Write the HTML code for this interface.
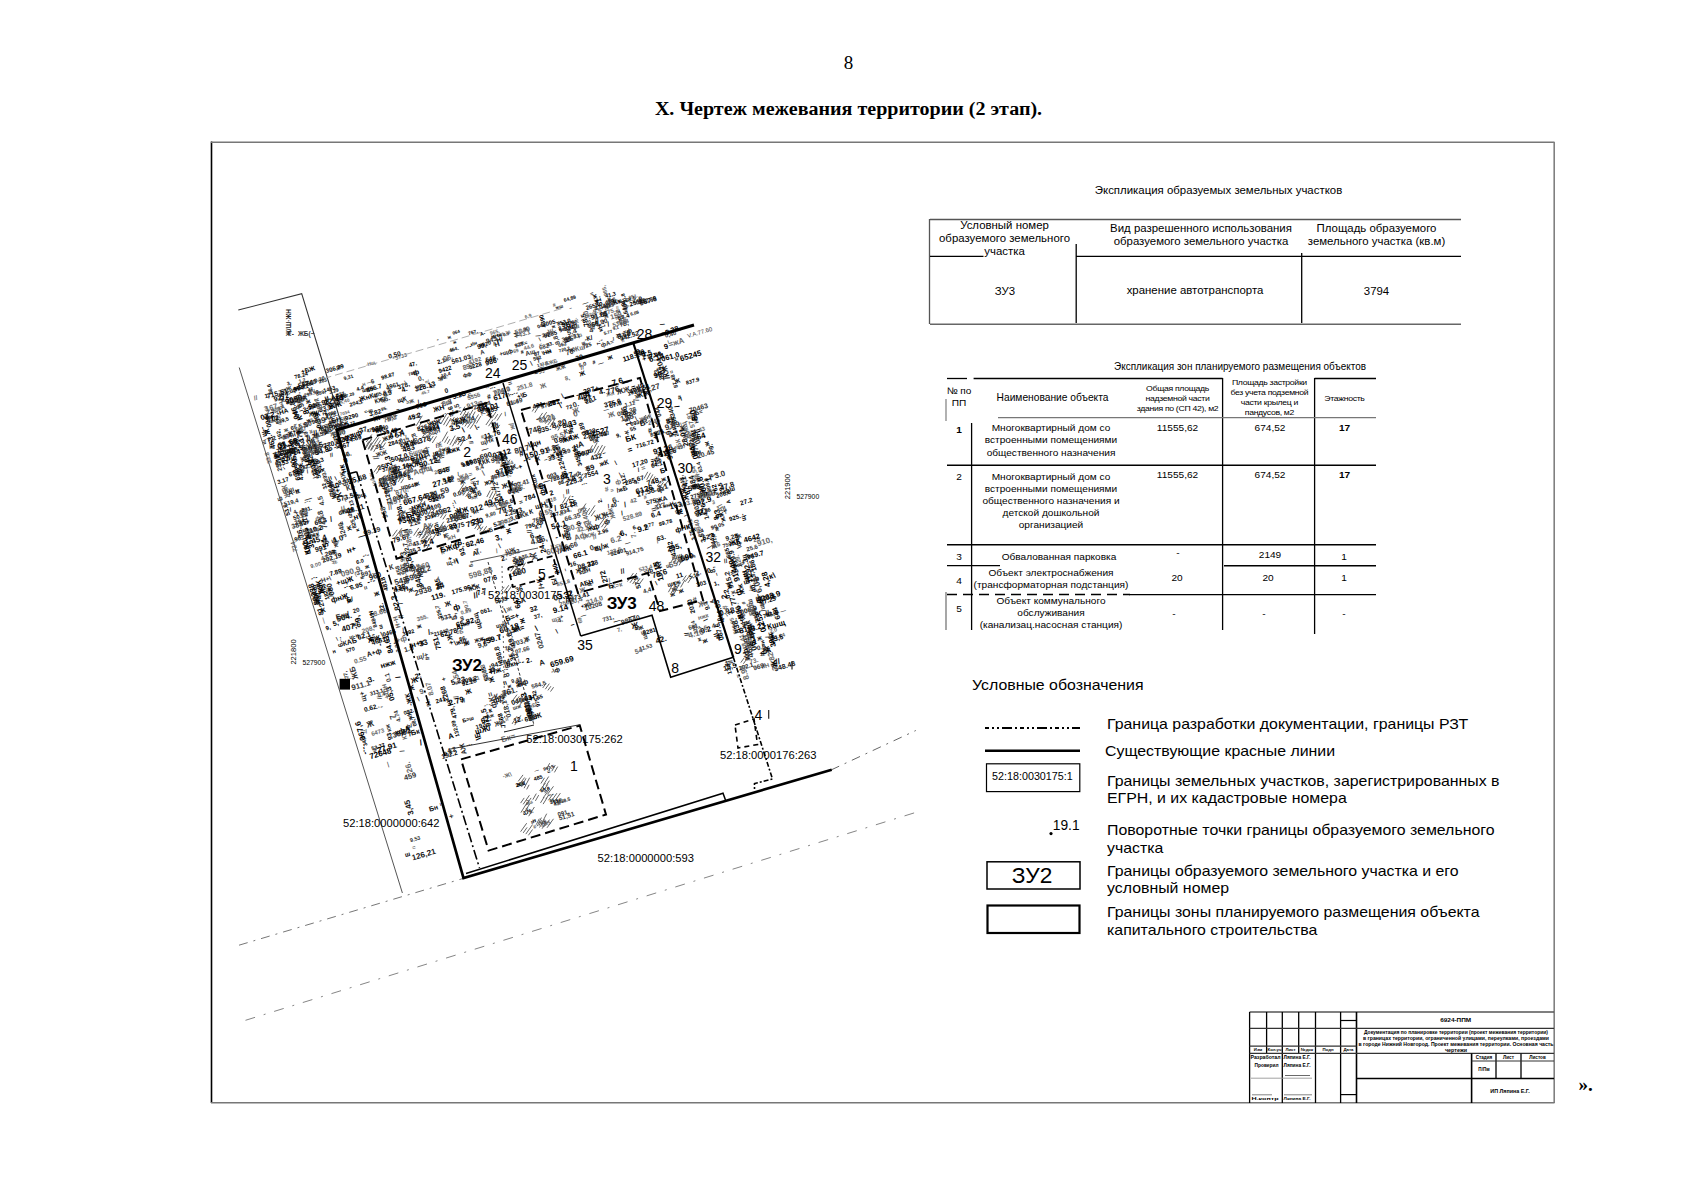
<!DOCTYPE html>
<html><head><meta charset="utf-8"><style>
html,body{margin:0;padding:0;background:#fff}
body{width:1697px;height:1200px;overflow:hidden;position:relative;font-family:"Liberation Sans",sans-serif}
svg{position:absolute;left:0;top:0}
</style></head><body>
<svg width="1697" height="1200" viewBox="0 0 1697 1200">
<g transform="rotate(-16.4)" font-size="4.0" font-weight="bold" fill="#333"><text x="277" y="941">#</text></g>
<g transform="rotate(-16.4)" font-size="4.0" font-weight="bold" fill="#666"><text x="278" y="921">866</text></g>
<g transform="rotate(-16.4)" font-size="4.5" font-weight="bold" fill="#000"><text x="210" y="507">13.72</text><text x="286" y="476">785.</text><text x="209" y="480">60.6</text><text x="250" y="502">95.</text><text x="215" y="479">907.29</text><text x="388" y="465">0.9</text><text x="424" y="494">+Н</text><text x="333" y="465">//</text><text x="461" y="495">щ</text><text x="437" y="496">720.2</text><text x="485" y="492">5.77</text><text x="516" y="481">6,08</text><text x="522" y="470">8.03</text><text x="340" y="449">064</text><text x="338" y="458">ж</text><text x="304" y="893">997,5</text><text x="295" y="892">—</text><text x="286" y="944">\кК</text><text x="301" y="925">/Н</text></g>
<g transform="rotate(-16.4)" font-size="4.5" font-weight="bold" fill="#111"><text x="263" y="485">\</text><text x="377" y="464">0.</text><text x="503" y="484">Н</text><text x="276" y="926">=</text></g>
<g transform="rotate(-16.4)" font-size="4.5" font-weight="bold" fill="#333"><text x="262" y="480">\</text><text x="325" y="473">Ж</text><text x="412" y="504">132.8</text><text x="450" y="485">+==</text><text x="495" y="490">9,1</text><text x="459" y="458">–</text></g>
<g transform="rotate(-106.4)" font-size="4.5" font-weight="bold" fill="#666"><text x="-473" y="464">Ж-</text></g>
<g transform="rotate(-16.4)" font-size="4.5" font-weight="bold" fill="#666"><text x="293" y="498">45.7</text><text x="209" y="495">7034</text><text x="300" y="488">н/</text><text x="455" y="487">9.73</text><text x="432" y="474">\</text><text x="474" y="470">9204</text><text x="504" y="471">//</text><text x="382" y="464">505,78</text></g>
<g transform="rotate(-106.4)" font-size="5.0" font-weight="bold" fill="#000"><text x="-467" y="516">91,8</text></g>
<g transform="rotate(-16.4)" font-size="5.0" font-weight="bold" fill="#000"><text x="503" y="474">щ</text><text x="492" y="500">/</text><text x="185" y="463">47,</text><text x="181" y="480">15</text><text x="195" y="492">6780</text><text x="136" y="478">фН</text><text x="205" y="471">3.29</text><text x="317" y="487">10,4</text><text x="233" y="500">=-щ</text><text x="315" y="490">//</text><text x="313" y="489">566.</text><text x="211" y="476">137.</text><text x="354" y="465">к\н</text><text x="410" y="497">592</text><text x="423" y="467">048.</text><text x="427" y="487">43.</text><text x="338" y="493">фф</text><text x="437" y="471">ж</text><text x="443" y="477">945,86</text><text x="376" y="464">ННж</text><text x="212" y="451">–</text><text x="171" y="458">441,2</text><text x="167" y="451">3,</text><text x="366" y="458">А-</text><text x="355" y="454">767,</text><text x="456" y="449">64,89</text><text x="409" y="466">Ж</text><text x="332" y="465">464.</text><text x="515" y="522">\</text><text x="373" y="524">К\-</text><text x="301" y="927">393,</text><text x="295" y="913">63,9</text><text x="274" y="901">ЖЖ</text><text x="304" y="928">179.</text><text x="297" y="911">1,</text></g>
<g transform="rotate(-106.4)" font-size="5.0" font-weight="bold" fill="#111"><text x="-477" y="494">361.7</text><text x="-458" y="192">Ж</text><text x="-500" y="479">7.</text></g>
<g transform="rotate(-16.4)" font-size="5.0" font-weight="bold" fill="#111"><text x="496" y="498">29.</text><text x="192" y="469">889,</text><text x="180" y="467">299.99</text><text x="438" y="491">062</text><text x="223" y="462">9,31</text><text x="198" y="458">263</text><text x="446" y="454">жш</text><text x="334" y="452">ж</text><text x="230" y="519">472.72</text><text x="304" y="930">43.</text><text x="309" y="929">638.5</text></g>
<g transform="rotate(-106.4)" font-size="5.0" font-weight="bold" fill="#333"><text x="-474" y="493">\А</text></g>
<g transform="rotate(-16.4)" font-size="5.0" font-weight="bold" fill="#333"><text x="179" y="452">1.2</text><text x="499" y="462">6,8</text></g>
<g transform="rotate(-106.4)" font-size="5.0" font-weight="bold" fill="#666"><text x="-485" y="504">3.91</text><text x="-474" y="483">Ж</text></g>
<g transform="rotate(-16.4)" font-size="5.0" font-weight="bold" fill="#666"><text x="519" y="465">951.</text><text x="164" y="480">35</text><text x="206" y="481">-·-</text><text x="207" y="484">954,40</text><text x="420" y="485">=</text><text x="342" y="494">//</text><text x="393" y="484">69</text><text x="248" y="455">-Нщ</text><text x="414" y="454">6,9</text><text x="376" y="460">965,</text><text x="355" y="510">-н</text><text x="286" y="946">2.05</text></g>
<g transform="rotate(-106.4)" font-size="5.5" font-weight="bold" fill="#000"><text x="-501" y="147">162,</text><text x="-482" y="144">—</text><text x="-471" y="516">/</text><text x="-466" y="160">ЖЖ</text><text x="-455" y="151">56.6</text><text x="-472" y="471">\</text><text x="-460" y="489">ЖЖ</text><text x="-611" y="195">к</text><text x="-607" y="193">825</text><text x="-572" y="183">485,49</text><text x="-591" y="193">/</text><text x="-561" y="176">32</text><text x="-708" y="185">84849</text><text x="-711" y="190">ш</text><text x="-670" y="137">82,7</text><text x="-814" y="195">08,7</text><text x="-799" y="153">К</text><text x="-752" y="143">877,</text><text x="-819" y="142">34,0</text><text x="-559" y="329">//</text><text x="-708" y="383">–</text><text x="-595" y="481">-К</text><text x="-652" y="436">2.</text><text x="-714" y="515">3.75</text><text x="-563" y="541">87.48</text><text x="-610" y="528">244.9</text><text x="-658" y="554">\</text><text x="-672" y="544">808.9</text><text x="-705" y="549">ЖЖ</text><text x="-724" y="557">/к</text><text x="-841" y="552">Ж=н</text><text x="-797" y="525">-·-</text><text x="-689" y="559">А</text><text x="-689" y="258">72,</text><text x="-718" y="250">326,7</text><text x="-836" y="233">132,09</text><text x="-726" y="270">ш</text><text x="-830" y="319">975.42</text><text x="-780" y="515">4,</text><text x="-802" y="517">70</text></g>
<g transform="rotate(-16.4)" font-size="5.5" font-weight="bold" fill="#000"><text x="152" y="537">26,</text><text x="169" y="476">ф</text><text x="138" y="481">77.3</text><text x="162" y="501">фк</text><text x="175" y="493">Ж/</text><text x="145" y="485">949,5</text><text x="188" y="479">к</text><text x="161" y="541">/</text><text x="158" y="536">82.55</text><text x="443" y="470">853.0</text><text x="199" y="476">Н</text><text x="162" y="461">-·-</text><text x="200" y="468">1463</text><text x="181" y="456">21,</text><text x="158" y="495">65.</text><text x="148" y="501">974.</text><text x="259" y="472">98.87</text><text x="221" y="489">204,1</text><text x="232" y="476">4.4</text><text x="237" y="479">шфк</text><text x="396" y="479">927</text><text x="461" y="499">725</text><text x="412" y="493">07</text><text x="362" y="469">8920</text><text x="400" y="487">#</text><text x="420" y="494">\НН</text><text x="443" y="475">8.</text><text x="376" y="471">/</text><text x="515" y="467">68.5</text><text x="494" y="467">989</text><text x="503" y="489">7.</text><text x="219" y="449">ш</text><text x="194" y="456">9.30</text><text x="176" y="447">78.24</text><text x="497" y="457">41,3</text><text x="328" y="511">Ж</text><text x="412" y="512">-·-</text><text x="466" y="517">#</text><text x="238" y="521">942,0</text><text x="471" y="520">—</text><text x="145" y="577">791.</text><text x="188" y="532">//</text><text x="178" y="561">0.</text><text x="188" y="593">1,</text><text x="183" y="642">6.0</text><text x="135" y="721">н</text><text x="148" y="724">570</text><text x="186" y="800">092.</text><text x="184" y="814">ф/</text><text x="145" y="825">53.37</text><text x="312" y="579">9.6</text><text x="234" y="537">31.</text><text x="278" y="555">нк</text><text x="261" y="584">Ж</text><text x="230" y="582">657,</text><text x="349" y="617">ЖЖ</text><text x="292" y="553">/</text><text x="294" y="612">\</text><text x="297" y="558">нщ</text><text x="261" y="620">/</text><text x="282" y="534">0,16</text><text x="251" y="584">3648</text><text x="261" y="619">3319</text><text x="280" y="552">—</text><text x="253" y="570">6.</text><text x="234" y="561">37465</text><text x="343" y="598">\</text><text x="382" y="652">247,83</text><text x="386" y="748">+Ж=</text><text x="383" y="757">—</text><text x="364" y="659">4.7</text><text x="468" y="594">9,</text><text x="399" y="623">68.</text><text x="491" y="557">101.6</text><text x="437" y="582">39</text><text x="460" y="632">\</text><text x="399" y="595">Ж</text><text x="485" y="587">093.45</text><text x="483" y="592">55</text><text x="403" y="591">37</text><text x="454" y="589">-ш/</text><text x="428" y="553">72</text><text x="432" y="665">=</text><text x="458" y="687">6.</text><text x="415" y="696">Ж</text><text x="443" y="660">40</text><text x="498" y="750">5,16</text><text x="423" y="682">2.96</text><text x="446" y="700">—</text><text x="484" y="691">89,78</text><text x="443" y="689">=</text><text x="440" y="659">/</text><text x="493" y="675">жнН</text><text x="520" y="527">273.4</text><text x="521" y="691">584,86</text><text x="519" y="709">24</text><text x="550" y="563">837.9</text><text x="525" y="607">=</text><text x="540" y="508">—</text><text x="544" y="752">Кщ=</text><text x="546" y="829">Ж</text><text x="561" y="808">52.01</text><text x="553" y="768">/</text><text x="537" y="831">=</text><text x="260" y="745">86.</text><text x="207" y="724">3992</text><text x="293" y="804">ж</text><text x="306" y="821">6.8</text><text x="274" y="751">ЖЖ</text><text x="284" y="753">=ф</text><text x="287" y="697">ж</text><text x="326" y="698">17.0</text><text x="318" y="823">55</text><text x="240" y="824">Б=ш</text><text x="307" y="897">=</text><text x="273" y="901">202</text><text x="272" y="930">379.</text><text x="292" y="900">485</text></g>
<g transform="rotate(-106.4)" font-size="5.5" font-weight="bold" fill="#111"><text x="-497" y="175">35</text><text x="-511" y="173">2.49</text><text x="-585" y="197">13</text><text x="-554" y="179">893.4</text><text x="-651" y="541">63.4</text><text x="-810" y="553">48.01</text><text x="-855" y="547">=</text><text x="-766" y="562">8,57</text><text x="-693" y="216">/</text><text x="-799" y="214">91.</text><text x="-835" y="310">3987</text><text x="-816" y="285">3,9</text></g>
<g transform="rotate(-16.4)" font-size="5.5" font-weight="bold" fill="#111"><text x="135" y="524">—</text><text x="162" y="492">–</text><text x="180" y="495">93</text><text x="486" y="474">72.</text><text x="421" y="480">\</text><text x="448" y="472">=Нж</text><text x="495" y="464">6.</text><text x="514" y="473">-·-</text><text x="323" y="451">-</text><text x="452" y="516">5,0</text><text x="180" y="590">67219</text><text x="142" y="710">\</text><text x="155" y="712">ш-н</text><text x="159" y="772">313,1</text><text x="245" y="621">2.26</text><text x="258" y="569">53.</text><text x="227" y="571">408.5</text><text x="269" y="544">461</text><text x="288" y="640">#</text><text x="364" y="652">7681</text><text x="366" y="736">/</text><text x="363" y="752">+</text><text x="501" y="603">851.6</text><text x="494" y="630">21.0</text><text x="394" y="715">кшН</text><text x="533" y="709">90.05</text><text x="555" y="725">\К</text><text x="234" y="731">=</text><text x="237" y="733">21040</text><text x="280" y="784">38</text><text x="301" y="767">76.0</text><text x="340" y="684">535,2</text><text x="264" y="827">Аж</text></g>
<g transform="rotate(-106.4)" font-size="5.5" font-weight="bold" fill="#333"><text x="-501" y="130">щ</text><text x="-596" y="192">шА</text><text x="-738" y="200">3.04</text><text x="-518" y="546">–</text><text x="-548" y="541">=</text><text x="-603" y="535">—</text><text x="-724" y="535">31,0</text><text x="-790" y="545">#</text><text x="-760" y="542">-н</text><text x="-677" y="294">8,</text><text x="-805" y="491">329,4</text><text x="-813" y="492">ж</text></g>
<g transform="rotate(-16.4)" font-size="5.5" font-weight="bold" fill="#333"><text x="151" y="472">=А</text><text x="303" y="494">2,</text><text x="246" y="487">405.3</text><text x="255" y="495">/</text><text x="276" y="503">=Ж</text><text x="425" y="477">2,95</text><text x="401" y="479">Ж=</text><text x="206" y="511">=</text><text x="309" y="515">7.54</text><text x="429" y="513">ЖЖ</text><text x="278" y="519">77,</text><text x="155" y="614">3.5</text><text x="137" y="576">4.</text><text x="166" y="776">0.4</text><text x="156" y="924">9.53</text><text x="325" y="625">087.3</text><text x="240" y="562">=кА</text><text x="305" y="586">/</text><text x="260" y="610">=шН</text><text x="320" y="634">9,80</text><text x="288" y="539">АщН</text><text x="294" y="590">41</text><text x="241" y="607">ж</text><text x="380" y="642">4.8</text><text x="485" y="567">1,11</text><text x="463" y="566">—</text><text x="479" y="733">щ</text><text x="503" y="684">9.0</text><text x="436" y="706">3</text><text x="469" y="689">9.77</text><text x="520" y="623">749.</text><text x="546" y="537">н</text><text x="523" y="680">4,14</text><text x="539" y="730">759.5</text><text x="576" y="809">—</text><text x="298" y="800">9.41</text><text x="292" y="826">шж</text><text x="430" y="805">11,53</text><text x="432" y="784">н</text></g>
<g transform="rotate(-106.4)" font-size="5.5" font-weight="bold" fill="#666"><text x="-504" y="178">ж</text><text x="-455" y="500">985,</text><text x="-762" y="383">69</text><text x="-602" y="356">7.56</text><text x="-702" y="513">ж</text><text x="-816" y="529">560.05</text><text x="-792" y="539">-·-</text><text x="-779" y="556">/н-</text><text x="-797" y="562">850.</text><text x="-824" y="309">+ф</text><text x="-718" y="278">00.7</text></g>
<g transform="rotate(-16.4)" font-size="5.5" font-weight="bold" fill="#666"><text x="147" y="478">–</text><text x="404" y="484">44.6</text><text x="156" y="457">3,62</text><text x="239" y="473">н</text><text x="259" y="489">/</text><text x="261" y="486">Ж</text><text x="350" y="478">//</text><text x="420" y="505">БЖБ</text><text x="500" y="504">//</text><text x="496" y="463">114.</text><text x="278" y="457">3733</text><text x="444" y="451">#</text><text x="160" y="626">Ж</text><text x="147" y="599">А/ф</text><text x="138" y="633">9.00</text><text x="178" y="654">\</text><text x="315" y="598">=</text><text x="303" y="592">5398</text><text x="316" y="605">Н</text><text x="348" y="590">42,34</text><text x="311" y="613">=К</text><text x="283" y="578">202,07</text><text x="338" y="557">#</text><text x="369" y="720">853.8</text><text x="382" y="637">8.18</text><text x="372" y="533">5469</text><text x="447" y="645">=</text><text x="470" y="552">Жн</text><text x="400" y="637">/</text><text x="452" y="729">523.4</text><text x="477" y="661">#</text><text x="541" y="685">3</text><text x="560" y="832">43.64</text><text x="560" y="825">2,0</text><text x="259" y="738">=Б</text><text x="269" y="720">0.89</text><text x="304" y="829">БнБ</text><text x="258" y="787">03,1</text><text x="278" y="946">#</text></g>
<g transform="rotate(-106.4)" font-size="6.0" font-weight="bold" fill="#000"><text x="-495" y="197">5.7</text><text x="-488" y="485">кН</text><text x="-468" y="432">4390</text><text x="-489" y="450">Н</text><text x="-546" y="156">4.80</text><text x="-531" y="142">-·-</text><text x="-608" y="188">Ж</text><text x="-524" y="145">762,</text><text x="-600" y="182">=</text><text x="-576" y="133">53.6</text><text x="-713" y="148">-·-</text><text x="-666" y="151">/=ж</text><text x="-668" y="147">18258</text><text x="-656" y="137">7</text><text x="-898" y="197">–</text><text x="-638" y="272">5.02</text><text x="-602" y="279">—</text><text x="-616" y="294">-·-</text><text x="-641" y="465">112.</text><text x="-611" y="427">345,08</text><text x="-649" y="409">127,</text><text x="-732" y="497">62</text><text x="-670" y="409">/ф</text><text x="-625" y="541">0,2</text><text x="-609" y="521">–</text><text x="-698" y="553">-к=</text><text x="-726" y="528">\</text><text x="-741" y="544">665</text><text x="-727" y="533">544,3</text><text x="-755" y="527">–</text><text x="-678" y="556">29,5</text><text x="-634" y="539">005</text><text x="-780" y="547">ЖЖ</text><text x="-650" y="237">522.7</text><text x="-754" y="226">#</text><text x="-673" y="243">Жф=</text><text x="-791" y="277">53,45</text><text x="-806" y="306">23.</text><text x="-853" y="512">13,7</text></g>
<g transform="rotate(-16.4)" font-size="6.0" font-weight="bold" fill="#000"><text x="138" y="513">768.78</text><text x="200" y="507">1.3</text><text x="190" y="501">—</text><text x="143" y="539">674.1</text><text x="432" y="467">005.</text><text x="483" y="466">4,04</text><text x="502" y="497">-=ф</text><text x="518" y="472">25095</text><text x="175" y="481">3,37</text><text x="142" y="457">1.</text><text x="172" y="459">934.1</text><text x="189" y="480">5</text><text x="186" y="457">539</text><text x="194" y="490">7.</text><text x="289" y="468">47.</text><text x="317" y="473">2,1</text><text x="204" y="506">ЖЖ</text><text x="246" y="493">КЖ/</text><text x="316" y="482">9422</text><text x="213" y="501">9290</text><text x="346" y="487">5228</text><text x="412" y="507">—</text><text x="427" y="478">9235</text><text x="503" y="482">88.4</text><text x="208" y="450">306,29</text><text x="133" y="526">9153</text><text x="169" y="534">19.3</text><text x="186" y="556">\</text><text x="140" y="589">к=+</text><text x="188" y="561">8,51</text><text x="134" y="573">/</text><text x="139" y="579">\</text><text x="151" y="597">–</text><text x="130" y="543">3.17</text><text x="135" y="697">9,</text><text x="188" y="719">0466</text><text x="190" y="649">ж</text><text x="311" y="578">5.58</text><text x="336" y="627">856.6</text><text x="339" y="638">2,25</text><text x="254" y="557">902.</text><text x="289" y="588">5,99</text><text x="247" y="538">284.0</text><text x="317" y="600">67</text><text x="328" y="603">ЖЖ</text><text x="309" y="627">н\</text><text x="270" y="611">100</text><text x="237" y="647">35.3</text><text x="247" y="583">ш</text><text x="245" y="526">79.40</text><text x="343" y="644">3,60</text><text x="295" y="605">0.07</text><text x="244" y="565">ж-</text><text x="344" y="636">–</text><text x="305" y="603">089.1</text><text x="242" y="641">43.95</text><text x="295" y="531">Б</text><text x="353" y="548">н-</text><text x="256" y="576">8,</text><text x="336" y="599">467.</text><text x="271" y="570">73.</text><text x="305" y="595">Ж</text><text x="255" y="563">1.</text><text x="325" y="645">5.3</text><text x="379" y="621">9.</text><text x="383" y="594">Ж</text><text x="360" y="513">-·-</text><text x="355" y="656">796.85</text><text x="436" y="586">2,80</text><text x="392" y="618">788,31</text><text x="482" y="577">42.8</text><text x="390" y="614">003.</text><text x="484" y="610">716.72</text><text x="493" y="633">64.1</text><text x="423" y="578">=</text><text x="505" y="603">875,</text><text x="450" y="607">–</text><text x="479" y="633">/</text><text x="387" y="705">16.</text><text x="503" y="760">303</text><text x="478" y="667">575,</text><text x="464" y="747">\</text><text x="509" y="595">1</text><text x="550" y="595">Б=</text><text x="538" y="575">#</text><text x="521" y="596">-·-</text><text x="553" y="706">925.</text><text x="547" y="680">206,6</text><text x="536" y="745">//</text><text x="530" y="675">24.</text><text x="520" y="764">1,</text><text x="535" y="804">Ж</text><text x="558" y="809">743,1</text><text x="225" y="684">Ж</text><text x="250" y="789">92.28</text><text x="220" y="798">241,</text><text x="237" y="849">-·-</text><text x="304" y="777">7.3</text><text x="308" y="719">631</text><text x="333" y="686">575</text><text x="288" y="725">061,</text><text x="339" y="802">-\ф</text><text x="288" y="810">Н+</text><text x="298" y="782">Б</text><text x="438" y="791">8281</text><text x="451" y="799">=</text><text x="508" y="818">\</text><text x="277" y="940">-н</text><text x="301" y="920">-·-</text></g>
<g transform="rotate(-106.4)" font-size="6.0" font-weight="bold" fill="#111"><text x="-478" y="514">64.9</text><text x="-689" y="515">\</text><text x="-586" y="517">044.</text><text x="-712" y="540">ж</text></g>
<g transform="rotate(-16.4)" font-size="6.0" font-weight="bold" fill="#111"><text x="134" y="516">4,1</text><text x="195" y="494">723.</text><text x="176" y="509">36.5</text><text x="148" y="539">=нн</text><text x="482" y="485">—</text><text x="184" y="498">–</text><text x="293" y="492">-·-</text><text x="248" y="473">6</text><text x="261" y="483">4961</text><text x="206" y="479">07,76</text><text x="379" y="483">+щф</text><text x="527" y="473">442.89</text><text x="475" y="463">2658</text><text x="473" y="458">—</text><text x="483" y="451">=</text><text x="251" y="513">-К</text><text x="318" y="514">/</text><text x="130" y="603">90.</text><text x="135" y="587">294.</text><text x="201" y="579">фщ</text><text x="135" y="582">50.24</text><text x="166" y="688">20</text><text x="341" y="583">54965</text><text x="243" y="567">БА</text><text x="358" y="595">Ж</text><text x="404" y="545">376.8</text><text x="491" y="583">\</text><text x="421" y="631">-·-</text><text x="444" y="593">\ж</text><text x="472" y="644">4.</text><text x="429" y="706">92401</text><text x="545" y="745">-·-</text><text x="522" y="674">275,</text><text x="549" y="811">/</text><text x="520" y="852">202.1</text><text x="245" y="805">//</text><text x="251" y="834">192.</text><text x="299" y="743">щжН</text><text x="262" y="723">/</text><text x="311" y="649">жнБ</text><text x="338" y="745">37,</text></g>
<g transform="rotate(-106.4)" font-size="6.0" font-weight="bold" fill="#333"><text x="-505" y="201">3.83</text><text x="-503" y="193">+</text><text x="-464" y="190">8</text><text x="-526" y="179">-Бф</text><text x="-564" y="130">-·-</text><text x="-846" y="158">—</text><text x="-778" y="169">//</text><text x="-805" y="181">4.74</text><text x="-544" y="276">10,8</text><text x="-609" y="523">К</text><text x="-670" y="247">2.0</text><text x="-665" y="223">458</text></g>
<g transform="rotate(-16.4)" font-size="6.0" font-weight="bold" fill="#333"><text x="132" y="507">//</text><text x="151" y="495">ж</text><text x="196" y="501">547.56</text><text x="451" y="489">=</text><text x="139" y="473">2.9</text><text x="443" y="487">308.31</text><text x="460" y="488">/</text><text x="419" y="488">682</text><text x="361" y="476">А</text><text x="479" y="503">фА=</text><text x="130" y="566">519,4</text><text x="189" y="579">\</text><text x="180" y="653">37</text><text x="257" y="539">2.13</text><text x="314" y="527">н</text><text x="329" y="533">7.</text><text x="324" y="586">8.4</text><text x="253" y="616">Ж</text><text x="360" y="755">4.</text><text x="367" y="542">/</text><text x="358" y="611">-·-</text><text x="497" y="632">—</text><text x="416" y="620">нА</text><text x="405" y="595">62.69</text><text x="498" y="731">ф++</text><text x="403" y="767">731,</text><text x="450" y="751">4,4</text><text x="419" y="676">1.</text><text x="444" y="710">914,75</text><text x="543" y="512">0,40</text><text x="528" y="728">Ж</text><text x="556" y="790">Ж</text><text x="534" y="777">ж</text><text x="561" y="740">25.6</text><text x="213" y="851">0.3</text><text x="328" y="677">75.42</text><text x="316" y="811">584.5</text><text x="309" y="806">\</text><text x="310" y="773">07.66</text><text x="483" y="799">681,</text><text x="305" y="941">091.</text></g>
<g transform="rotate(-106.4)" font-size="6.0" font-weight="bold" fill="#666"><text x="-487" y="151">422.46</text><text x="-498" y="467">4</text><text x="-509" y="167">3</text><text x="-529" y="165">—</text><text x="-521" y="130">33.8</text><text x="-806" y="144">//</text><text x="-572" y="224">шАж</text><text x="-629" y="342">037</text><text x="-535" y="349">71,76</text><text x="-624" y="540">Б</text><text x="-601" y="527">05.9</text><text x="-677" y="529">\/</text><text x="-752" y="552">120.</text><text x="-658" y="535">86,54</text><text x="-661" y="230">26.92</text><text x="-835" y="285">=</text></g>
<g transform="rotate(-16.4)" font-size="6.0" font-weight="bold" fill="#666"><text x="230" y="488">=</text><text x="244" y="473">—</text><text x="347" y="482">4192</text><text x="481" y="469">9.5</text><text x="502" y="466">Н/н</text><text x="491" y="473">375.</text><text x="496" y="487">53574</text><text x="337" y="514">Б</text><text x="435" y="525">8,</text><text x="336" y="516">5356</text><text x="165" y="544">999</text><text x="156" y="589">фК</text><text x="149" y="811">6473</text><text x="144" y="807">/</text><text x="156" y="932">=</text><text x="270" y="570">39</text><text x="264" y="553">Бшщ</text><text x="277" y="645">жН</text><text x="366" y="740">250,4</text><text x="409" y="682">ЖЖ</text><text x="491" y="731">ЖЖ</text><text x="426" y="704">123.5</text><text x="463" y="661">42</text><text x="404" y="674">42.1</text><text x="509" y="627">-·-</text><text x="537" y="612">551.43</text><text x="529" y="727">0,6</text><text x="525" y="664">жщ</text><text x="550" y="842">//</text><text x="549" y="843">05</text><text x="542" y="857">нН</text><text x="570" y="733">25</text><text x="225" y="714">355.</text><text x="414" y="781">7.</text><text x="495" y="792">нжк</text><text x="263" y="889">-Ж\</text><text x="310" y="928">2.</text></g>
<g transform="rotate(-106.4)" font-size="6.5" font-weight="bold" fill="#000"><text x="-469" y="403">Н</text><text x="-486" y="140">00.5</text><text x="-544" y="177">54.0</text><text x="-573" y="182">К</text><text x="-620" y="170">жБ</text><text x="-509" y="194">#</text><text x="-549" y="173">508.03</text><text x="-590" y="148">51.76</text><text x="-512" y="162">89.</text><text x="-695" y="197">22.</text><text x="-660" y="143">БК</text><text x="-820" y="168">93</text><text x="-526" y="319">3.6</text><text x="-594" y="234">71204</text><text x="-708" y="375">240</text><text x="-618" y="410">96,2</text><text x="-543" y="465">+</text><text x="-745" y="449">57.8</text><text x="-608" y="525">К</text><text x="-510" y="548">ф</text><text x="-701" y="543">8</text><text x="-632" y="558">9.</text><text x="-677" y="550">762</text><text x="-693" y="527">54039</text><text x="-719" y="524">3.5</text><text x="-664" y="531">#</text><text x="-698" y="534">14.76</text><text x="-770" y="555">щ=</text><text x="-796" y="530">3</text><text x="-813" y="539">жН</text><text x="-710" y="569">щ-</text><text x="-779" y="203">Ж</text><text x="-676" y="206">4818</text><text x="-685" y="241">ш</text><text x="-818" y="236">479,</text><text x="-840" y="280">7568</text><text x="-804" y="482">//</text><text x="-784" y="494">2010</text><text x="-795" y="504">\</text><text x="-843" y="516">//</text></g>
<g transform="rotate(-16.4)" font-size="6.5" font-weight="bold" fill="#000"><text x="161" y="468">25.4</text><text x="137" y="481">8.02</text><text x="154" y="499">ж+ж</text><text x="199" y="527">967</text><text x="150" y="534">КЖ</text><text x="140" y="523">0.5</text><text x="200" y="536">56.</text><text x="465" y="493">-К/</text><text x="472" y="481">966.</text><text x="149" y="477">-НА</text><text x="180" y="474">ж</text><text x="165" y="459">-щН</text><text x="241" y="480">856.7</text><text x="256" y="489">6.9</text><text x="264" y="507">–</text><text x="316" y="503">0</text><text x="268" y="499">щК</text><text x="237" y="504">3.82</text><text x="348" y="467">-·-</text><text x="360" y="470">99,</text><text x="364" y="485">646,</text><text x="380" y="469">Н/</text><text x="499" y="502">342.52</text><text x="184" y="444">+БЖ</text><text x="202" y="520">/</text><text x="207" y="523">24.69</text><text x="238" y="522">\К</text><text x="223" y="515">–</text><text x="508" y="521">530.</text><text x="450" y="525">Ж</text><text x="284" y="510">910</text><text x="144" y="508">4,</text><text x="199" y="557">=</text><text x="142" y="604">шжк</text><text x="165" y="549">–</text><text x="140" y="517">6,84</text><text x="154" y="593">66,3</text><text x="151" y="631">202.19</text><text x="134" y="679">Ж</text><text x="163" y="676">Б/</text><text x="191" y="638">-·-</text><text x="161" y="701">ж</text><text x="154" y="646">7.89</text><text x="175" y="724">46610</text><text x="170" y="665">6.95</text><text x="135" y="645">-·-</text><text x="149" y="786">0.62</text><text x="147" y="937">ш</text><text x="240" y="572">790.62</text><text x="258" y="544">5,8</text><text x="321" y="537">89.74</text><text x="290" y="535">984</text><text x="283" y="536">95684</text><text x="244" y="618">нжж</text><text x="351" y="534">885</text><text x="239" y="565">/ж</text><text x="236" y="592">000.1</text><text x="273" y="604">32</text><text x="279" y="532">826.</text><text x="328" y="582">ККК</text><text x="348" y="618">0366</text><text x="270" y="603">55.45</text><text x="269" y="601">251</text><text x="353" y="620">-·-</text><text x="269" y="628">=</text><text x="245" y="564">92.16</text><text x="314" y="607">#</text><text x="378" y="738">973.41</text><text x="384" y="529">+\Б</text><text x="363" y="643">К</text><text x="355" y="765">\</text><text x="356" y="631">=</text><text x="441" y="590">9.5</text><text x="396" y="543">421</text><text x="426" y="624">7554</text><text x="404" y="634">//</text><text x="447" y="552">97,1</text><text x="502" y="624">ж</text><text x="463" y="642">285.67</text><text x="396" y="597">33.11</text><text x="419" y="576">К</text><text x="439" y="583">322.</text><text x="453" y="647">/жБ</text><text x="399" y="652">4.</text><text x="499" y="649">ж</text><text x="475" y="627">17,20</text><text x="494" y="628">=ф</text><text x="475" y="762">ж</text><text x="432" y="674">ф</text><text x="486" y="746">11</text><text x="487" y="668">/ЖА</text><text x="391" y="727">АБН</text><text x="478" y="705">63.</text><text x="451" y="670">/</text><text x="522" y="528">7.98</text><text x="537" y="633">нн</text><text x="530" y="676">69837</text><text x="556" y="678">фш</text><text x="522" y="717">62.4</text><text x="559" y="792">777,8</text><text x="550" y="843">Ж</text><text x="534" y="831">591</text><text x="559" y="795">07.25</text><text x="568" y="694">27.2</text><text x="223" y="721">ж</text><text x="210" y="853">152.2</text><text x="300" y="841">69.8</text><text x="298" y="755">\</text><text x="268" y="732">ж/</text><text x="328" y="714">36</text><text x="266" y="698">175.96</text><text x="311" y="753">—</text><text x="297" y="667">А\</text><text x="272" y="665">+</text></g>
<g transform="rotate(-106.4)" font-size="6.5" font-weight="bold" fill="#111"><text x="-475" y="515">494</text><text x="-655" y="138">ш</text><text x="-669" y="187">=</text><text x="-807" y="193">жК</text><text x="-582" y="440">2.89</text><text x="-597" y="530">65340</text><text x="-499" y="546">/</text><text x="-735" y="557">\ф+</text><text x="-785" y="509">9.4</text></g>
<g transform="rotate(-16.4)" font-size="6.5" font-weight="bold" fill="#111"><text x="132" y="500">7,2</text><text x="179" y="487">Ж</text><text x="445" y="488">08.</text><text x="287" y="506">/</text><text x="272" y="486">378,</text><text x="331" y="477">561.03</text><text x="497" y="464">49.</text><text x="272" y="454">0,50</text><text x="155" y="626">263,</text><text x="182" y="590">Ж-Н</text><text x="265" y="562">нк</text><text x="283" y="636">6075</text><text x="273" y="562">\</text><text x="289" y="561">627.8</text><text x="243" y="532">ЖК</text><text x="336" y="645">=</text><text x="281" y="628">2116</text><text x="294" y="621">Н</text><text x="230" y="558">250</text><text x="422" y="602">400,7</text><text x="459" y="620">\</text><text x="448" y="553">22.</text><text x="470" y="564">87.6</text><text x="456" y="733">=ф</text><text x="404" y="710">228</text><text x="391" y="713">ЖЖ</text><text x="475" y="752">шкж</text><text x="539" y="559">Ж</text><text x="544" y="724">9,28</text><text x="539" y="816">-ф</text><text x="248" y="720">533</text><text x="211" y="680">4.8</text><text x="232" y="779">+</text><text x="217" y="849">4.2</text><text x="283" y="780">943.84</text><text x="292" y="787">-·-</text><text x="283" y="700">ЖЖ</text><text x="250" y="787">309,2</text></g>
<g transform="rotate(-106.4)" font-size="6.5" font-weight="bold" fill="#333"><text x="-531" y="138">253.94</text><text x="-488" y="440">9,8</text><text x="-564" y="197">БНЖ</text><text x="-510" y="183">Б</text><text x="-560" y="130">Б</text><text x="-658" y="186">к</text><text x="-812" y="169">кж</text><text x="-764" y="183">0.1</text><text x="-835" y="176">/</text><text x="-661" y="360">//</text><text x="-661" y="521">043,</text><text x="-551" y="530">8.31</text><text x="-547" y="527">23.</text><text x="-766" y="536">/</text><text x="-802" y="562">/щ</text><text x="-842" y="309">555,27</text><text x="-693" y="338">Нжж</text><text x="-796" y="441">шБ</text></g>
<g transform="rotate(-16.4)" font-size="6.5" font-weight="bold" fill="#333"><text x="164" y="521">2.15</text><text x="177" y="470">9.</text><text x="147" y="502">шАн</text><text x="294" y="484">0,</text><text x="404" y="490">Ащ</text><text x="475" y="484">#</text><text x="476" y="481">61.90</text><text x="370" y="467">943,</text><text x="144" y="650">Н+\</text><text x="184" y="656">891.</text><text x="146" y="828">#</text><text x="336" y="563">щНк</text><text x="272" y="539">\</text><text x="237" y="539">2.</text><text x="232" y="545">ЖЖ</text><text x="342" y="581">19,9</text><text x="339" y="527">23494</text><text x="352" y="613">790,41</text><text x="372" y="533">01.49</text><text x="392" y="597">–</text><text x="475" y="574">080.38</text><text x="395" y="660">66.35</text><text x="485" y="674">317.</text><text x="487" y="727">шш</text><text x="467" y="729">2,</text><text x="389" y="751">10208</text><text x="543" y="838">0.5</text><text x="534" y="856">969</text><text x="203" y="791">\</text><text x="310" y="765">703,4</text><text x="322" y="764">Ж</text><text x="269" y="669">щ-Н</text><text x="506" y="804">4</text><text x="305" y="945">51,51</text></g>
<g transform="rotate(-106.4)" font-size="6.5" font-weight="bold" fill="#666"><text x="-558" y="149">Н</text><text x="-613" y="130">724.</text><text x="-541" y="174">37.0</text><text x="-690" y="137">—</text><text x="-824" y="182">КЖ</text><text x="-671" y="444">ЖЖ</text><text x="-700" y="517">41</text><text x="-606" y="546">57,81</text><text x="-621" y="528">БК</text><text x="-660" y="537">Нн</text><text x="-713" y="523">25340</text><text x="-834" y="534">48,41</text><text x="-790" y="277">606.3</text></g>
<g transform="rotate(-16.4)" font-size="6.5" font-weight="bold" fill="#666"><text x="181" y="509">1.8</text><text x="138" y="469">3.</text><text x="173" y="514">6.3</text><text x="138" y="481">#</text><text x="162" y="499">НК/</text><text x="199" y="485">нБ+</text><text x="131" y="456">//</text><text x="280" y="484">\</text><text x="399" y="470">743.1</text><text x="363" y="519">906,3</text><text x="509" y="522">35.</text><text x="453" y="519">//</text><text x="386" y="521">251.8</text><text x="166" y="617">ф</text><text x="150" y="570">-·-</text><text x="169" y="521">0.31</text><text x="169" y="710">208,</text><text x="153" y="737">0.55</text><text x="150" y="629">41.</text><text x="141" y="752">-·-</text><text x="268" y="634">—</text><text x="353" y="617">845.</text><text x="329" y="645">3902</text><text x="331" y="629">1.23</text><text x="305" y="590">ЖА=</text><text x="252" y="586">–</text><text x="354" y="753">щ=</text><text x="374" y="683">К=н</text><text x="498" y="557">63.</text><text x="410" y="656">01.</text><text x="454" y="639">ф</text><text x="402" y="559">3,70</text><text x="405" y="578">95,57</text><text x="502" y="591">2.45</text><text x="420" y="731">/</text><text x="477" y="707">/</text><text x="421" y="738">К=к</text><text x="451" y="676">528.89</text><text x="509" y="679">403.2</text><text x="508" y="592">–</text><text x="526" y="666">78.</text><text x="532" y="849">73.</text><text x="310" y="783">/</text><text x="320" y="671">/</text><text x="295" y="657">=</text><text x="278" y="921">7.</text></g>
<g transform="rotate(-106.4)" font-size="7.0" font-weight="bold" fill="#000"><text x="-494" y="133">щ--</text><text x="-463" y="492">51.</text><text x="-501" y="188">0,36</text><text x="-474" y="191">-</text><text x="-493" y="137">Ж</text><text x="-479" y="473">78.5</text><text x="-545" y="153">698.90</text><text x="-532" y="171">//</text><text x="-625" y="167">#</text><text x="-509" y="167">179.</text><text x="-546" y="171">330.52</text><text x="-530" y="167">8980</text><text x="-530" y="155">А/-</text><text x="-793" y="197">-ЖК</text><text x="-763" y="193">/</text><text x="-606" y="242">08,</text><text x="-568" y="292">//</text><text x="-598" y="357">557.32</text><text x="-724" y="492">4392</text><text x="-729" y="403">#</text><text x="-679" y="396">8260</text><text x="-628" y="514">кБ</text><text x="-677" y="517">-</text><text x="-528" y="519">+ф</text><text x="-582" y="537">/</text><text x="-619" y="545">58,</text><text x="-659" y="550">#</text><text x="-672" y="537">96</text><text x="-628" y="555">ж</text><text x="-664" y="531">#</text><text x="-845" y="549">#</text><text x="-840" y="555">к</text><text x="-794" y="561">А</text><text x="-844" y="550">А</text><text x="-791" y="561">Б-</text><text x="-830" y="544">526</text><text x="-781" y="559">40,71</text><text x="-761" y="565">186.3</text><text x="-673" y="229">6.</text><text x="-690" y="258">305.</text><text x="-799" y="233">2268</text><text x="-664" y="290">93,</text><text x="-794" y="282">Ж</text><text x="-818" y="514">087.6</text></g>
<g transform="rotate(-16.4)" font-size="7.0" font-weight="bold" fill="#000"><text x="184" y="522">770,0</text><text x="194" y="526">-</text><text x="147" y="517">426.5</text><text x="188" y="509">7</text><text x="184" y="489">Ж</text><text x="447" y="499">ж</text><text x="480" y="479">//</text><text x="503" y="466">Кк</text><text x="184" y="504">Ж=Б</text><text x="150" y="463">9272</text><text x="182" y="488">Ж</text><text x="158" y="458">51</text><text x="181" y="480">918.98</text><text x="199" y="506">Ж</text><text x="205" y="478">АБк</text><text x="288" y="493">328.13</text><text x="275" y="490">4.</text><text x="232" y="487">ЖнК</text><text x="291" y="477">ф</text><text x="447" y="473">5,</text><text x="448" y="477">щ\ф</text><text x="363" y="488">986</text><text x="491" y="485">/</text><text x="322" y="511">5.75</text><text x="300" y="518">ЖН</text><text x="496" y="523">118.1</text><text x="291" y="511">–</text><text x="235" y="520">980.</text><text x="482" y="517">ж</text><text x="205" y="521">К/</text><text x="240" y="510">Ж</text><text x="208" y="519">жщф</text><text x="516" y="524">1,5</text><text x="511" y="520">9,</text><text x="273" y="519">45.2</text><text x="182" y="577">573.58</text><text x="143" y="599">410.2</text><text x="137" y="557">А-н</text><text x="163" y="715">62,1</text><text x="164" y="663">-·-</text><text x="143" y="695">5,</text><text x="172" y="721">ЖЖ</text><text x="163" y="677">ж</text><text x="249" y="525">\</text><text x="297" y="629">67.</text><text x="316" y="579">6989</text><text x="254" y="614">900.</text><text x="287" y="560">ш</text><text x="286" y="564">К+</text><text x="287" y="579">848</text><text x="315" y="554">52.4</text><text x="224" y="632">79.67</text><text x="245" y="554">507.0</text><text x="347" y="599">195</text><text x="242" y="591">к</text><text x="341" y="558">11.76</text><text x="310" y="643">\</text><text x="235" y="611">76,</text><text x="261" y="543">ЖЖ</text><text x="342" y="530">841</text><text x="355" y="521">#</text><text x="371" y="763">–</text><text x="363" y="597">-+</text><text x="362" y="629">784</text><text x="464" y="548">4.</text><text x="407" y="582">0.</text><text x="415" y="584">ЖКЖ</text><text x="423" y="570">щ</text><text x="500" y="641">Б</text><text x="493" y="556">405.51</text><text x="425" y="601">Бщш</text><text x="394" y="647">82.25</text><text x="499" y="562">ЖЖ</text><text x="422" y="595">3</text><text x="504" y="625">513.6</text><text x="465" y="562">375,6</text><text x="388" y="631">2</text><text x="412" y="545">661,</text><text x="406" y="626">225.3</text><text x="437" y="609">432</text><text x="385" y="618">—</text><text x="412" y="583">95.4</text><text x="444" y="617">жК</text><text x="498" y="702">фНК</text><text x="413" y="772">—</text><text x="414" y="676">Жф</text><text x="394" y="710">08,33</text><text x="479" y="681">6.4</text><text x="484" y="761">ж</text><text x="434" y="726">//</text><text x="517" y="750">0</text><text x="520" y="595">8.</text><text x="521" y="595">=//</text><text x="559" y="748">949.7</text><text x="561" y="807">//</text><text x="549" y="771">ш+ф</text><text x="558" y="834">73,5</text><text x="233" y="662">1.</text><text x="254" y="748">\жш</text><text x="243" y="736">62,78</text><text x="230" y="804">3.</text><text x="289" y="839">12.</text><text x="311" y="822">Н</text><text x="296" y="784">шкн</text><text x="325" y="726">БА</text><text x="305" y="719">5.</text><text x="336" y="737">32</text><text x="300" y="696">07.6</text><text x="331" y="649">ж</text><text x="290" y="706">7.7</text><text x="318" y="785">2.</text><text x="268" y="822">к</text><text x="292" y="821">046.63</text><text x="251" y="798">Ж</text><text x="493" y="816">ж</text></g>
<g transform="rotate(-106.4)" font-size="7.0" font-weight="bold" fill="#111"><text x="-500" y="167">/</text><text x="-526" y="201">ККБ</text><text x="-484" y="490">-·-</text><text x="-717" y="147">6</text><text x="-673" y="140">2747</text><text x="-681" y="137">81.</text><text x="-718" y="370">Б/</text><text x="-605" y="410">24,8</text><text x="-748" y="559">щ</text><text x="-752" y="548">719.9</text><text x="-771" y="538">915.2</text><text x="-780" y="532">0.2</text><text x="-680" y="223">-·-</text><text x="-806" y="308">3.</text><text x="-779" y="308">35,2</text><text x="-739" y="285">щБщ</text><text x="-855" y="235">АЖ</text><text x="-778" y="296">498.8</text></g>
<g transform="rotate(-16.4)" font-size="7.0" font-weight="bold" fill="#111"><text x="167" y="470">=фА</text><text x="497" y="500">8,68</text><text x="477" y="474">91.61</text><text x="177" y="457">5574</text><text x="144" y="458">715.</text><text x="199" y="500">БН</text><text x="190" y="486">33,1</text><text x="247" y="488">#</text><text x="451" y="474">Б</text><text x="377" y="473">Н</text><text x="414" y="500">/</text><text x="528" y="470">0</text><text x="528" y="474">567.6</text><text x="451" y="509">20</text><text x="223" y="517">37.</text><text x="379" y="525">-·-</text><text x="407" y="511">=</text><text x="238" y="521">щН</text><text x="147" y="619">991</text><text x="189" y="508">16</text><text x="147" y="717">КАБ</text><text x="167" y="734">А+ф</text><text x="183" y="900">Бн</text><text x="344" y="611">ЖЖ</text><text x="235" y="613">ф-</text><text x="335" y="570">—</text><text x="282" y="559">\</text><text x="256" y="532">57.</text><text x="444" y="589">9144</text><text x="427" y="541">\</text><text x="408" y="594">95</text><text x="449" y="543">297.</text><text x="394" y="568">535.</text><text x="537" y="799">006.9</text><text x="537" y="811">#</text><text x="554" y="863">548.48</text><text x="256" y="708">Ж</text><text x="218" y="682">-Н</text><text x="303" y="805">Нф</text><text x="323" y="680">2.</text><text x="431" y="785">=ж</text><text x="505" y="848">18,5</text><text x="508" y="844">1.</text></g>
<g transform="rotate(-106.4)" font-size="7.0" font-weight="bold" fill="#333"><text x="-576" y="169">4.5</text><text x="-613" y="181">3240</text><text x="-526" y="326">7,5</text><text x="-618" y="341">4772</text><text x="-606" y="226">958</text><text x="-621" y="379">Жшк</text><text x="-603" y="551">н\ж</text><text x="-633" y="543">077,02</text><text x="-758" y="547">149</text><text x="-804" y="552">фшш</text><text x="-675" y="228">88.90</text><text x="-839" y="309">719.33</text><text x="-832" y="288">018,1</text></g>
<g transform="rotate(-16.4)" font-size="7.0" font-weight="bold" fill="#333"><text x="165" y="456">ж</text><text x="165" y="484">Б</text><text x="166" y="496">5.50</text><text x="289" y="491">н=</text><text x="252" y="494">56.</text><text x="456" y="474">Ж</text><text x="406" y="501">\</text><text x="443" y="501">70</text><text x="450" y="482">5.4</text><text x="498" y="461">к</text><text x="480" y="498">-</text><text x="506" y="489">8,</text><text x="472" y="486">4</text><text x="493" y="467">ф</text><text x="255" y="513">А+</text><text x="132" y="554">\Кш</text><text x="198" y="617">99.39</text><text x="131" y="590">388</text><text x="277" y="555">–</text><text x="307" y="525">-·-</text><text x="379" y="514">=</text><text x="397" y="588">4.8</text><text x="429" y="617">ж</text><text x="497" y="562">ж</text><text x="442" y="587">-·-</text><text x="505" y="749">2.</text><text x="387" y="687">6,66</text><text x="545" y="591">70463</text><text x="540" y="637">20.45</text><text x="227" y="664">439</text><text x="204" y="740">1.8</text><text x="208" y="721">/</text><text x="214" y="751">щ/+</text><text x="324" y="667">\</text><text x="276" y="757">9,8</text><text x="307" y="751">7,94</text><text x="329" y="675">\\Ж</text><text x="270" y="837">Ж-</text><text x="420" y="775">98640</text></g>
<g transform="rotate(-106.4)" font-size="7.0" font-weight="bold" fill="#666"><text x="-473" y="154">н</text><text x="-478" y="187">-</text><text x="-483" y="194">Б\</text><text x="-475" y="424">/</text><text x="-457" y="194">=</text><text x="-481" y="476">13,90</text><text x="-640" y="242">58,58</text><text x="-557" y="373">ж/</text><text x="-695" y="459">7.</text><text x="-668" y="418">140.1</text><text x="-859" y="520">=</text><text x="-845" y="533">нН</text><text x="-802" y="541">3</text><text x="-789" y="220">8.07</text><text x="-657" y="271">=+</text><text x="-800" y="243">//</text></g>
<g transform="rotate(-16.4)" font-size="7.0" font-weight="bold" fill="#666"><text x="451" y="500">Жш</text><text x="503" y="487">28</text><text x="432" y="475">щ</text><text x="458" y="478">ш</text><text x="400" y="467">5849</text><text x="324" y="472">06.</text><text x="340" y="486">892</text><text x="496" y="479">159,</text><text x="249" y="514">72,1</text><text x="310" y="515">8.5</text><text x="362" y="519">774.0</text><text x="333" y="524">913.</text><text x="409" y="526">Ж</text><text x="179" y="521">5.</text><text x="137" y="514">-·-</text><text x="185" y="697">8.66</text><text x="240" y="587">870.</text><text x="249" y="570">1.04</text><text x="332" y="534">/</text><text x="265" y="537">/</text><text x="327" y="539">40</text><text x="349" y="639">К</text><text x="232" y="628">8,56</text><text x="248" y="608">3,</text><text x="376" y="741">20,4</text><text x="372" y="648">9.55</text><text x="495" y="585">жнк</text><text x="442" y="643">#</text><text x="392" y="653">//</text><text x="483" y="633">=</text><text x="417" y="685">//</text><text x="392" y="746">314.0</text><text x="389" y="733">Ж</text><text x="265" y="750">н</text><text x="265" y="816">-·-</text><text x="425" y="807">54</text><text x="492" y="804">2,6</text></g>
<g transform="rotate(-106.4)" font-size="7.5" font-weight="bold" fill="#000"><text x="-486" y="169">046.8</text><text x="-488" y="172">К</text><text x="-519" y="140">#</text><text x="-614" y="147">35.8</text><text x="-601" y="140">76.</text><text x="-554" y="184">=</text><text x="-618" y="142">182,</text><text x="-521" y="190">\</text><text x="-669" y="137">ЖЖ</text><text x="-737" y="193">84.61</text><text x="-695" y="185">н</text><text x="-783" y="181">05,3</text><text x="-557" y="245">2.3</text><text x="-574" y="233">13</text><text x="-629" y="384">фф</text><text x="-538" y="354">+ж</text><text x="-684" y="368">24.64</text><text x="-730" y="419">272</text><text x="-630" y="516">9.4</text><text x="-622" y="535">28.01</text><text x="-744" y="545">+</text><text x="-669" y="523">674,1</text><text x="-674" y="520">ЖЖ</text><text x="-839" y="562">391.</text><text x="-765" y="559">292.3</text><text x="-788" y="536">77.</text><text x="-771" y="536">ж</text><text x="-837" y="563">+\ж</text><text x="-747" y="240">751.</text><text x="-845" y="253">\Б</text><text x="-800" y="294">=</text><text x="-730" y="328">647</text></g>
<g transform="rotate(-16.4)" font-size="7.5" font-weight="bold" fill="#000"><text x="171" y="481">–</text><text x="199" y="541">н</text><text x="132" y="477">03.2</text><text x="186" y="480">=</text><text x="178" y="507">//</text><text x="200" y="486">ЖЖ</text><text x="198" y="521">120.2</text><text x="144" y="520">0714</text><text x="174" y="526">54.8</text><text x="198" y="563">25,68</text><text x="195" y="514">1.</text><text x="170" y="594">/</text><text x="158" y="657">+щЖ</text><text x="148" y="672">фнЖ</text><text x="191" y="678">ж</text><text x="161" y="759">3.</text><text x="172" y="817">кфА</text><text x="177" y="749">нжж</text><text x="273" y="598">ж</text><text x="277" y="544">378</text><text x="344" y="579">07.12</text><text x="263" y="635">43.</text><text x="352" y="551">ш</text><text x="292" y="623">ЖЖ</text><text x="300" y="562">жжк</text><text x="271" y="567">90.12</text><text x="312" y="606">4.</text><text x="322" y="546">\</text><text x="259" y="548">483</text><text x="267" y="635">956.89</text><text x="259" y="565">ЖЖ</text><text x="342" y="596">97,71</text><text x="361" y="524">617.</text><text x="381" y="579">\щн</text><text x="425" y="574">=</text><text x="496" y="553">=-ш</text><text x="443" y="547">щА</text><text x="419" y="570">8.33</text><text x="422" y="550">\</text><text x="403" y="619">627</text><text x="503" y="607">+</text><text x="500" y="599">#</text><text x="396" y="556">--</text><text x="441" y="547">7,31</text><text x="408" y="623">+А</text><text x="484" y="649">748,</text><text x="499" y="678">163</text><text x="428" y="772">—</text><text x="485" y="718">295,</text><text x="388" y="676">К/</text><text x="393" y="698">66.1</text><text x="533" y="534">061.0</text><text x="521" y="548">99</text><text x="539" y="523">9</text><text x="550" y="509">28.</text><text x="546" y="730">ЖК</text><text x="522" y="666">548.</text><text x="539" y="818">33.23</text><text x="561" y="731">4642</text><text x="232" y="730">/</text><text x="202" y="772">Ж</text><text x="245" y="698">119.</text><text x="260" y="734">А/</text><text x="211" y="679">438.</text><text x="261" y="731">65.82</text><text x="222" y="836">А</text><text x="258" y="830">62.</text><text x="293" y="657">62,46</text><text x="336" y="688">00</text><text x="310" y="739">Б=+</text><text x="314" y="752">ж\=</text><text x="263" y="751">ж</text><text x="275" y="814">ф/+</text><text x="240" y="785">5.23</text><text x="494" y="806">0.2</text><text x="507" y="816">4</text></g>
<g transform="rotate(-106.4)" font-size="7.5" font-weight="bold" fill="#111"><text x="-570" y="182">7648</text><text x="-605" y="146">205</text><text x="-526" y="192">6.</text><text x="-524" y="155">510.</text><text x="-508" y="138">463.</text><text x="-665" y="153">080</text><text x="-610" y="338">#</text><text x="-594" y="321">\</text><text x="-718" y="356">/+К</text><text x="-614" y="537">ЖЖ</text><text x="-606" y="522">9.</text><text x="-552" y="536">/КЖ</text><text x="-546" y="533">0204</text><text x="-664" y="531">184</text><text x="-844" y="534">Кф</text><text x="-801" y="520">444.65</text><text x="-802" y="539">886</text><text x="-814" y="574">644</text><text x="-746" y="254">+Ж-</text><text x="-765" y="312">49.8</text><text x="-835" y="266">971,5</text></g>
<g transform="rotate(-16.4)" font-size="7.5" font-weight="bold" fill="#111"><text x="159" y="514">12,08</text><text x="188" y="591">08.11</text><text x="151" y="623">\</text><text x="167" y="615">1.0</text><text x="134" y="664">#</text><text x="133" y="653">-·-</text><text x="191" y="661">960</text><text x="169" y="819">38,62</text><text x="185" y="822">/Бк</text><text x="331" y="577">690</text><text x="293" y="566">–</text><text x="290" y="531">ЖЖ</text><text x="268" y="618">24962</text><text x="251" y="610">566,4</text><text x="308" y="611">6.36</text><text x="335" y="547">\-</text><text x="370" y="640">шН</text><text x="353" y="639">3,</text><text x="357" y="667">6,</text><text x="379" y="689">/АЖ</text><text x="404" y="589">/Б</text><text x="430" y="618">59</text><text x="423" y="577">ж</text><text x="471" y="657">17.58</text><text x="493" y="657">2,1</text><text x="456" y="663">/</text><text x="418" y="737">Б</text><text x="436" y="667">—</text><text x="513" y="706">ж</text><text x="553" y="674">47,8</text><text x="207" y="769">2.</text><text x="304" y="841">ЖЖ</text><text x="311" y="731">\</text><text x="330" y="791">А</text><text x="517" y="794">0.9</text></g>
<g transform="rotate(-106.4)" font-size="7.5" font-weight="bold" fill="#333"><text x="-526" y="169">3,0</text><text x="-599" y="165">743.8</text><text x="-776" y="154">щ+</text><text x="-559" y="283">02.</text><text x="-624" y="520">#</text><text x="-623" y="547">085</text><text x="-751" y="525">8,</text><text x="-775" y="339">0247</text></g>
<g transform="rotate(-16.4)" font-size="7.5" font-weight="bold" fill="#333"><text x="164" y="519">нКН</text><text x="194" y="569">К/-</text><text x="151" y="568">—</text><text x="197" y="514">940</text><text x="186" y="719">\</text><text x="168" y="863">459</text><text x="252" y="556">к</text><text x="232" y="570">68.17</text><text x="226" y="575">45,19</text><text x="351" y="644">-Кк</text><text x="265" y="561">БнН</text><text x="340" y="560">+=</text><text x="481" y="553">ЖЖ</text><text x="435" y="553">0.</text><text x="411" y="695">0.</text><text x="213" y="657">К</text><text x="277" y="811">К-ж</text><text x="300" y="666">7.</text><text x="495" y="774">#</text></g>
<g transform="rotate(-106.4)" font-size="7.5" font-weight="bold" fill="#666"><text x="-485" y="193">нНк</text><text x="-559" y="138">ЖЖ</text><text x="-780" y="177">+фн</text><text x="-547" y="234">//</text><text x="-615" y="398">\</text><text x="-616" y="539">Жжщ</text><text x="-862" y="557">25,82</text><text x="-786" y="249">5.54</text></g>
<g transform="rotate(-16.4)" font-size="7.5" font-weight="bold" fill="#666"><text x="164" y="470">292,</text><text x="138" y="484">—</text><text x="139" y="470">167.3</text><text x="194" y="512">жфк</text><text x="197" y="729">/+ф</text><text x="229" y="599">//</text><text x="345" y="586">47</text><text x="257" y="627">Ак</text><text x="336" y="599">ж</text><text x="313" y="535">21.0</text><text x="398" y="558">6121</text><text x="433" y="559">Ж</text><text x="466" y="573">Ж</text><text x="394" y="670">80.</text><text x="240" y="665">860</text><text x="207" y="785">9.</text><text x="286" y="810">#</text><text x="306" y="685">–</text><text x="314" y="730">ж</text></g>
<g transform="rotate(-106.4)" font-size="8.0" font-weight="bold" fill="#000"><text x="-509" y="175">=</text><text x="-484" y="180">8,</text><text x="-534" y="168">Н-</text><text x="-573" y="188">К+Б</text><text x="-619" y="142">Кжш</text><text x="-522" y="140">18,</text><text x="-617" y="161">54</text><text x="-602" y="148">К+</text><text x="-551" y="199">нк</text><text x="-720" y="179">0,</text><text x="-698" y="171">9,</text><text x="-727" y="185">-·-</text><text x="-661" y="144">ЖЖ</text><text x="-827" y="140">-·-</text><text x="-813" y="142">067,6</text><text x="-592" y="355">фА+</text><text x="-744" y="473">10,15</text><text x="-686" y="510">ж</text><text x="-600" y="551">8.0</text><text x="-577" y="543">–</text><text x="-700" y="546">93.</text><text x="-637" y="541">0947</text><text x="-675" y="539">560.8</text><text x="-662" y="547">1</text><text x="-859" y="558">Ж</text><text x="-766" y="546">91449</text><text x="-803" y="538">н</text><text x="-837" y="543">06,78</text><text x="-780" y="544">ф</text><text x="-779" y="529">2.</text><text x="-822" y="557">0,25</text><text x="-767" y="555">нн</text><text x="-780" y="574">4,28</text><text x="-661" y="237">6,8</text><text x="-837" y="309">881,73</text><text x="-746" y="328">ж</text><text x="-656" y="340">ж</text><text x="-708" y="299">-·-</text></g>
<g transform="rotate(-16.4)" font-size="8.0" font-weight="bold" fill="#000"><text x="160" y="469">9050</text><text x="140" y="510">01.30</text><text x="197" y="481">22,44</text><text x="141" y="509">31,68</text><text x="141" y="514">=</text><text x="193" y="599">н\</text><text x="151" y="516">—</text><text x="192" y="619">—</text><text x="177" y="629">н+</text><text x="188" y="665">-·-</text><text x="148" y="692">504.</text><text x="150" y="829">27.91</text><text x="193" y="834">/</text><text x="141" y="833">72648</text><text x="344" y="532">99.01</text><text x="244" y="612">БК</text><text x="264" y="559">670.</text><text x="234" y="625">—</text><text x="299" y="638">7530</text><text x="315" y="536">ЖЖ</text><text x="234" y="616">7346</text><text x="228" y="577">91.3</text><text x="245" y="599">667.64</text><text x="278" y="590">27.16</text><text x="239" y="571">774.</text><text x="252" y="644">2,4</text><text x="251" y="606">нжн</text><text x="310" y="541">3.5</text><text x="250" y="531">47.4</text><text x="322" y="623">49,54</text><text x="358" y="745">9.14</text><text x="380" y="664">54.1</text><text x="375" y="589">150.91</text><text x="372" y="592">-·-</text><text x="370" y="585">#</text><text x="362" y="733">03.32</text><text x="476" y="601">БК</text><text x="499" y="621">93.26</text><text x="471" y="654">6126</text><text x="479" y="543">7,6</text><text x="445" y="586">2527</text><text x="475" y="612">=</text><text x="388" y="647">/</text><text x="444" y="690">6,</text><text x="495" y="731">690.</text><text x="462" y="691">9.2</text><text x="521" y="531">6.14</text><text x="551" y="539">65245</text><text x="545" y="619">64</text><text x="545" y="599">//</text><text x="529" y="552">/</text><text x="541" y="613">==</text><text x="526" y="692">2.</text><text x="526" y="682">92.9</text><text x="557" y="857">//</text><text x="531" y="817">816,</text><text x="559" y="821">Кшщ</text><text x="561" y="792">268,9</text><text x="550" y="806">Ж</text><text x="575" y="773">к\</text><text x="212" y="738">н+к</text><text x="232" y="804">2.79</text><text x="249" y="839">шЖ/</text><text x="305" y="835">4.</text><text x="279" y="786">+/ж</text><text x="263" y="714">ф</text><text x="267" y="655">БЖф</text><text x="279" y="670">\</text><text x="301" y="749">60,18</text><text x="281" y="653">76.</text><text x="281" y="755">759.7</text><text x="336" y="757">\</text><text x="323" y="659">3,</text><text x="286" y="708">//</text><text x="340" y="796">659.69</text><text x="308" y="785">-·-</text><text x="448" y="803">42.</text><text x="505" y="814">=</text></g>
<g transform="rotate(-106.4)" font-size="8.0" font-weight="bold" fill="#111"><text x="-670" y="136">89238</text><text x="-898" y="167">3,45</text><text x="-654" y="376">н=-</text><text x="-586" y="486">15.96</text><text x="-732" y="475">К\</text><text x="-824" y="544">фщк</text><text x="-816" y="532">838.</text><text x="-698" y="212">82.3</text><text x="-682" y="240">848,</text><text x="-784" y="284">н-</text></g>
<g transform="rotate(-16.4)" font-size="8.0" font-weight="bold" fill="#111"><text x="169" y="520">01.5</text><text x="143" y="517">шщ</text><text x="145" y="523">//</text><text x="146" y="610">45.4</text><text x="150" y="703">407,6</text><text x="153" y="942">126,21</text><text x="305" y="637">21.</text><text x="274" y="642">к</text><text x="333" y="634">79.5</text><text x="307" y="625">912</text><text x="250" y="633">=</text><text x="285" y="626">994.</text><text x="259" y="632">3.</text><text x="373" y="738">//</text><text x="381" y="675">-</text><text x="471" y="550">776,</text><text x="409" y="567">8,20</text><text x="494" y="590">Б-</text><text x="424" y="593">нА</text><text x="488" y="546">—</text><text x="415" y="697">щ/ж</text><text x="463" y="739">79,6</text><text x="528" y="795">8,2</text><text x="252" y="689">24</text><text x="220" y="739">33</text><text x="330" y="698">680</text><text x="429" y="782">Ж</text></g>
<g transform="rotate(-106.4)" font-size="8.0" font-weight="bold" fill="#333"><text x="-476" y="177">950.</text><text x="-529" y="163">ж</text><text x="-752" y="152">ЖБ</text><text x="-801" y="177">7</text><text x="-574" y="283">–</text><text x="-688" y="358">Ж</text><text x="-843" y="538">468.91</text><text x="-832" y="561">—</text><text x="-783" y="564">6,01</text><text x="-659" y="227">–</text><text x="-707" y="213">#</text><text x="-663" y="233">58.73</text><text x="-819" y="277">фК=</text><text x="-793" y="298">8</text><text x="-723" y="264">5,</text></g>
<g transform="rotate(-16.4)" font-size="8.0" font-weight="bold" fill="#333"><text x="185" y="497">09</text><text x="186" y="507">575,85</text><text x="163" y="525">шжК</text><text x="148" y="690">Бж/</text><text x="147" y="802">Ж</text><text x="143" y="762">911.1</text><text x="200" y="913">+</text><text x="311" y="542">-·-</text><text x="268" y="599">831.59</text><text x="289" y="629">890</text><text x="343" y="532">-·-</text><text x="362" y="673">06,</text><text x="356" y="673">4.</text><text x="366" y="581">80.7</text><text x="385" y="566">748</text><text x="504" y="559">43,27</text><text x="477" y="580">158</text><text x="446" y="656">6.</text><text x="489" y="658">-ф</text><text x="409" y="543">-·-</text><text x="478" y="758">ж</text><text x="480" y="754">1.</text><text x="424" y="668">ЖЖ</text><text x="481" y="676">=</text><text x="517" y="601">9.89</text><text x="551" y="661">3.0</text><text x="233" y="669">250,2</text><text x="230" y="689">2938</text><text x="214" y="673">54,59</text><text x="286" y="810">761.</text></g>
<g transform="rotate(-106.4)" font-size="8.0" font-weight="bold" fill="#666"><text x="-570" y="181">-·-</text><text x="-636" y="165">#</text><text x="-857" y="178">26.</text><text x="-563" y="298">н+ж</text><text x="-566" y="500">7.</text><text x="-695" y="550">А\</text><text x="-803" y="551">566</text><text x="-829" y="560">/</text><text x="-863" y="527">8.96</text><text x="-790" y="527">#</text><text x="-835" y="540">73,3</text><text x="-715" y="207">н-н</text></g>
<g transform="rotate(-16.4)" font-size="8.0" font-weight="bold" fill="#666"><text x="142" y="580">68</text><text x="136" y="601">372.</text><text x="165" y="522">щ</text><text x="183" y="588">//</text><text x="165" y="650">090,9</text><text x="160" y="788">-·-</text><text x="272" y="634">ф</text><text x="263" y="573">Афщ</text><text x="345" y="599">#</text><text x="329" y="593">\</text><text x="231" y="595">497,8</text><text x="275" y="642">=</text><text x="368" y="687">6004</text><text x="433" y="562">0</text><text x="409" y="649">\</text><text x="399" y="681">Аф</text><text x="433" y="694">6.2</text><text x="412" y="671">\ж</text><text x="482" y="734">55</text><text x="544" y="522">=жА</text><text x="529" y="677">4546</text><text x="573" y="738">910,</text><text x="287" y="688">598,88</text><text x="272" y="854">Бк=</text><text x="481" y="807">4.10</text><text x="499" y="780">Ж</text></g>
<path d="M413.7 535.5l5.0 -7.5M416.3 536.7l4.1 -6.2M418.9 537.9l6.7 -9.9M421.5 539.1l6.2 -9.2M424.1 540.3l2.9 -4.4M499.3 460.3l4.7 -6.9M501.9 461.5l3.0 -4.4M504.5 462.7l3.0 -4.5M507.1 463.9l2.9 -4.2M379.0 483.6l3.5 -5.8M381.6 484.8l5.4 -8.9M384.2 486.0l4.7 -7.8M386.8 487.2l5.8 -9.6M366.2 442.0l5.6 -7.5M368.8 443.2l3.0 -4.0M371.4 444.4l7.1 -9.5M489.2 417.0l2.8 -4.3M491.8 418.2l4.2 -6.5M494.4 419.4l3.4 -5.3M497.0 420.6l4.8 -7.4M457.9 493.1l5.9 -8.9M460.5 494.3l5.6 -8.4M463.1 495.5l4.8 -7.3M465.7 496.7l5.7 -8.6M468.3 497.9l4.2 -6.3M373.8 472.4l5.2 -7.2M376.4 473.6l5.9 -8.3M438.3 530.0l5.5 -8.3M440.9 531.2l4.3 -6.4M443.5 532.4l4.5 -6.8M422.8 433.4l4.6 -7.4M425.4 434.6l5.3 -8.7M486.8 497.0l3.5 -6.7M489.4 498.2l3.5 -6.8M492.0 499.4l3.3 -6.3M422.2 532.0l3.4 -6.4M424.8 533.2l3.9 -7.3M427.4 534.4l5.6 -10.5M430.0 535.6l2.6 -4.8M392.5 536.3l4.7 -6.5M395.1 537.5l6.8 -9.3M432.0 460.7l3.1 -5.2M434.6 461.9l4.9 -8.2M437.2 463.1l5.0 -8.3M442.0 441.5l5.6 -9.9M444.6 442.7l3.5 -6.2M447.2 443.9l2.8 -4.9M449.8 445.1l5.4 -9.5M452.4 446.3l5.4 -9.5M506.6 471.3l3.2 -4.9M509.2 472.5l5.6 -8.6M438.3 422.7l3.0 -5.1M440.9 423.9l5.8 -9.9M443.5 425.1l5.0 -8.5M446.1 426.3l4.9 -8.3M419.2 505.2l4.0 -6.9M421.8 506.4l3.2 -5.5M390.4 478.3l3.6 -5.6M393.0 479.5l3.1 -4.8M395.6 480.7l5.8 -9.1M398.2 481.9l6.0 -9.4M400.8 483.1l2.9 -4.6M451.0 519.9l6.4 -9.6M453.6 521.1l6.4 -9.5M456.2 522.3l6.4 -9.5M435.1 515.7l6.0 -9.0M437.7 516.9l5.5 -8.3M440.3 518.1l6.4 -9.6M442.9 519.3l3.2 -4.9M365.9 448.2l5.7 -9.8M368.5 449.4l3.6 -6.1M371.1 450.6l3.6 -6.1M373.7 451.8l3.4 -5.9M424.1 547.7l5.3 -9.9M426.7 548.9l2.4 -4.5M455.1 443.7l3.9 -6.5M457.7 444.9l5.1 -8.4M460.3 446.1l4.7 -7.8M416.2 425.8l6.1 -10.1M418.8 427.0l3.5 -5.9M451.5 421.6l2.8 -4.4M454.1 422.8l3.4 -5.4M423.1 538.3l3.9 -6.1M425.7 539.5l5.1 -8.0M428.3 540.7l3.0 -4.7M430.9 541.9l6.0 -9.3M474.6 528.9l3.4 -5.1M477.2 530.1l4.0 -5.9M479.8 531.3l3.2 -4.8M482.4 532.5l4.3 -6.3M421.9 438.2l5.9 -9.3M424.5 439.4l3.0 -4.7M427.1 440.6l3.4 -5.3M429.7 441.8l3.6 -5.7M432.3 443.0l4.2 -6.7M485.9 425.0l6.5 -9.5M488.5 426.2l4.6 -6.7M491.1 427.4l3.9 -5.6M493.7 428.6l3.7 -5.4M496.3 429.8l3.4 -4.9M460.3 415.0l4.6 -8.3M462.9 416.2l2.9 -5.2M465.5 417.4l3.1 -5.7M468.1 418.6l4.9 -8.9M470.7 419.8l4.5 -8.2M427.5 516.0l4.2 -8.1M430.1 517.2l4.3 -8.3M365.4 447.9l3.3 -6.3M368.0 449.1l3.4 -6.4M370.6 450.3l2.7 -5.2M374.5 444.2l4.3 -6.7M377.1 445.4l3.4 -5.2M379.7 446.6l6.4 -10.0M382.3 447.8l3.3 -5.2M473.7 422.3l4.8 -7.8M476.3 423.5l4.5 -7.4M459.7 424.0l6.7 -9.9M462.3 425.2l6.4 -9.4M464.9 426.4l3.3 -4.8M467.5 427.6l4.1 -5.9M470.1 428.8l5.9 -8.6M642.9 420.2l2.8 -5.2M645.5 421.4l3.9 -7.2M644.0 478.6l3.8 -6.8M646.6 479.8l3.9 -7.0M649.2 481.0l3.7 -6.6M651.8 482.2l3.2 -5.7M532.2 411.5l3.6 -6.0M534.8 412.7l4.1 -6.8M537.5 420.1l5.2 -7.2M540.1 421.3l6.6 -9.1M542.7 422.5l4.5 -6.2M545.3 423.7l3.5 -4.9M547.9 424.9l3.8 -5.3M574.8 475.7l3.2 -4.4M577.4 476.9l3.5 -4.9M580.0 478.1l3.2 -4.5M582.6 479.3l6.1 -8.4M657.2 486.1l4.0 -5.4M659.8 487.3l3.7 -5.1M662.4 488.5l6.8 -9.3M562.3 503.4l3.8 -6.3M564.9 504.6l5.4 -8.9M550.0 427.0l5.3 -8.7M552.6 428.2l2.8 -4.6M555.2 429.4l4.6 -7.6M557.8 430.6l2.9 -4.8M580.7 511.4l5.3 -7.9M583.3 512.6l3.1 -4.6M585.9 513.8l3.8 -5.6M588.5 515.0l6.5 -9.7M591.1 516.2l3.9 -5.7M589.4 450.9l3.1 -5.6M592.0 452.1l5.1 -9.3M594.6 453.3l4.1 -7.4M597.2 454.5l5.3 -9.5M599.8 455.7l5.3 -9.5M678.0 586.2l2.5 -4.4M680.6 587.4l4.4 -7.7M627.4 581.6l6.0 -8.5M630.0 582.8l6.8 -9.7M632.6 584.0l4.2 -6.0M635.2 585.2l4.8 -6.9M637.8 586.4l5.5 -7.8M655.3 508.2l5.3 -8.5M657.9 509.4l3.9 -6.2M668.4 592.2l4.0 -7.4M671.0 593.4l3.3 -6.1M673.6 594.6l5.1 -9.4M598.8 526.0l6.1 -8.4M601.4 527.2l6.2 -8.5M604.0 528.4l6.2 -8.6M671.3 561.7l4.2 -7.6M673.9 562.9l2.9 -5.3M676.5 564.1l2.4 -4.4M679.1 565.3l4.8 -8.7M682.6 580.6l3.7 -5.2M685.2 581.8l6.1 -8.6M687.8 583.0l5.2 -7.4M512.1 723.9l4.8 -7.6M514.7 725.1l6.1 -9.7M511.6 701.9l5.4 -7.2M514.2 703.1l5.1 -6.8M516.8 704.3l5.3 -7.1M519.4 705.5l5.8 -7.7M501.0 591.3l3.2 -4.4M503.6 592.5l5.2 -7.3M506.2 593.7l6.9 -9.7M514.7 564.1l3.2 -5.3M517.3 565.3l5.3 -8.8M519.9 566.5l5.6 -9.3M522.5 567.7l3.0 -5.0M510.7 571.4l6.0 -8.5M513.3 572.6l4.8 -6.8M515.9 573.8l4.1 -5.9M518.5 575.0l4.1 -5.9M542.7 688.0l3.6 -5.0M545.3 689.2l4.0 -5.6M547.9 690.4l3.0 -4.2M550.5 691.6l3.1 -4.4M740.8 662.6l3.4 -4.8M743.4 663.8l4.6 -6.6M521.5 787.0l4.5 -8.7M524.1 788.2l5.6 -10.6M526.7 789.4l2.4 -4.6M518.2 781.4l4.8 -6.5M520.8 782.6l3.8 -5.1M536.9 826.3l3.1 -4.8M539.5 827.5l5.2 -8.1M542.1 828.7l3.7 -5.8M520.6 831.7l6.1 -8.5M523.2 832.9l3.9 -5.5M525.8 834.1l6.7 -9.5M528.4 835.3l4.1 -5.8M540.5 802.9l3.7 -5.9M543.1 804.1l4.0 -6.4M546.6 768.8l3.1 -5.6M549.2 770.0l2.8 -5.0M551.8 771.2l3.5 -6.2M554.4 772.4l3.3 -5.8M544.4 826.6l5.1 -7.0M547.0 827.8l6.5 -9.0M520.9 812.6l6.3 -10.2M523.5 813.8l6.2 -9.9M526.1 815.0l3.7 -5.9M528.7 816.2l5.7 -9.2M520.6 803.1l3.6 -5.2M523.2 804.3l6.2 -9.0M525.8 805.5l5.3 -7.6M538.6 823.1l2.8 -5.5M541.2 824.3l5.5 -10.6M543.8 825.5l2.3 -4.5M540.9 783.5l3.6 -5.7M543.5 784.7l5.2 -8.2M546.1 785.9l3.3 -5.3M543.2 797.9l5.9 -8.3M545.8 799.1l3.5 -5.0M548.4 800.3l4.6 -6.5M551.0 801.5l5.9 -8.3M553.6 802.7l6.8 -9.6M536.3 824.6l3.0 -5.9M538.9 825.8l2.9 -5.7M539.6 790.8l5.8 -7.8M542.2 792.0l5.5 -7.4M544.8 793.2l3.3 -4.4M547.4 794.4l6.1 -8.1M532.8 799.7l3.5 -6.1M535.4 800.9l3.3 -5.8" stroke="#555" stroke-width="0.9" fill="none"/>
<path d="M239.0,945.2 L464.0,878.2" fill="none" stroke="#666" stroke-width="0.9" stroke-dasharray="9 6 2 6" />
<path d="M831.0,770.0 L915.8,730.5" fill="none" stroke="#666" stroke-width="1" stroke-dasharray="9 6 2 6" />
<path d="M245.5,1020.3 L915.8,812.4" fill="none" stroke="#777" stroke-width="0.9" stroke-dasharray="10 9 2 9" />
<path d="M238.3,310.0 L301.7,293.7 L341.7,425.0" fill="none" stroke="#333" stroke-width="1.1" />
<path d="M239.2,367.5 L402.4,893.0" fill="none" stroke="#555" stroke-width="1" />
<path d="M312.0,382.0 L561.4,308.7" fill="none" stroke="#999" stroke-width="0.8" stroke-dasharray="8 4" />
<text x="291" y="336" font-size="6.5" font-weight="bold" text-anchor="start" fill="#222" transform="rotate(-90 291 336)" >Ж/Ш·ЖН</text>
<text x="288" y="336" font-size="6.5" font-weight="bold" text-anchor="start" fill="#222" >Г-</text>
<text x="298" y="336" font-size="6.5" font-weight="bold" text-anchor="start" fill="#333" >ЖБ(~</text>
<path d="M336.5,430.0 L694.0,325.0" fill="none" stroke="#000" stroke-width="3.0" />
<path d="M336.5,429.0 L463.5,878.0 L831.7,769.7" fill="none" stroke="#000" stroke-width="2.7" />
<path d="M466.0,873.5 L723.0,793.2 L725.5,800.0" fill="none" stroke="#000" stroke-width="1.5" />
<path d="M347.5,474.0 L356.7,471.7" fill="none" stroke="#000" stroke-width="1.5" />
<path d="M356.7,471.7 L479.5,868.0" fill="none" stroke="#000" stroke-width="1.6" stroke-dasharray="10 3 2 3" />
<path d="M633.0,342.0 L733.3,657.3" fill="none" stroke="#000" stroke-width="2.2" />
<path d="M733.3,657.3 L772.5,779.0 L754.5,783.5 L754.5,790.0" fill="none" stroke="#000" stroke-width="1.6" stroke-dasharray="5 2 2 2" />
<path d="M503.0,383.0 L580.7,636.0" fill="none" stroke="#000" stroke-width="1.5" />
<path d="M580.7,636.0 L652.0,615.3 L670.7,677.3 L733.3,657.3" fill="none" stroke="#000" stroke-width="1.6" />
<path d="M362.5,440.0 L486.8,403.0 L520.0,521.7 L396.6,558.7 L362.5,440.0" fill="none" stroke="#000" stroke-width="2" stroke-dasharray="10 5" />
<path d="M521.0,410.0 L640.0,378.0 L703.0,600.0 L660.0,611.0 L648.0,573.0 L578.0,593.0 L521.0,410.0" fill="none" stroke="#000" stroke-width="2" stroke-dasharray="10 5" />
<path d="M461.0,759.4 L579.8,725.5 L606.0,814.5 L488.6,850.6 L461.0,759.4" fill="none" stroke="#000" stroke-width="2" stroke-dasharray="10 5" />
<path d="M508.0,568.0 L553.0,556.0 L558.0,575.0 L513.0,587.0 L508.0,568.0" fill="none" stroke="#000" stroke-width="1.8" stroke-dasharray="6 4" />
<path d="M735.0,725.0 L754.0,719.0 L757.5,744.5 L738.0,748.0 L735.0,725.0" fill="none" stroke="#000" stroke-width="1.6" stroke-dasharray="5 4" />
<path d="M449.6,749.2 L580.0,724.7" fill="none" stroke="#333" stroke-width="1" />
<path d="M488.0,562.0 L534.0,725.0" fill="none" stroke="#333" stroke-width="1" stroke-dasharray="3 2" />
<path d="M502.0,566.0 L505.0,732.0" fill="none" stroke="#555" stroke-width="0.9" stroke-dasharray="2 3" />
<path d="M470.0,562.0 L538.0,548.0" fill="none" stroke="#444" stroke-width="0.9" />
<path d="M504.0,732.0 L534.0,725.0" fill="none" stroke="#222" stroke-width="1" />
<path d="M792.0,661.0 L792.0,669.5" fill="none" stroke="#222" stroke-width="1.2" />
<path d="M768.7,710.0 L768.7,718.7" fill="none" stroke="#222" stroke-width="1.2" />
<text x="485" y="377.5" font-size="14" font-weight="normal" text-anchor="start" fill="#000" >24</text>
<text x="511.7" y="370" font-size="14" font-weight="normal" text-anchor="start" fill="#000" >25</text>
<text x="636.7" y="339" font-size="14" font-weight="normal" text-anchor="start" fill="#000" >28</text>
<text x="656.7" y="407.5" font-size="14" font-weight="normal" text-anchor="start" fill="#000" >29</text>
<text x="677.5" y="472.5" font-size="14" font-weight="normal" text-anchor="start" fill="#000" >30</text>
<text x="705.5" y="562.4" font-size="14" font-weight="normal" text-anchor="start" fill="#000" >32</text>
<text x="734" y="654" font-size="14" font-weight="normal" text-anchor="start" fill="#000" >9</text>
<text x="671.3" y="673.3" font-size="14" font-weight="normal" text-anchor="start" fill="#000" >8</text>
<text x="648.7" y="610.7" font-size="14" font-weight="normal" text-anchor="start" fill="#000" >48</text>
<text x="577.3" y="650" font-size="14" font-weight="normal" text-anchor="start" fill="#000" >35</text>
<text x="603" y="484" font-size="14" font-weight="normal" text-anchor="start" fill="#000" >3</text>
<text x="538" y="579" font-size="14" font-weight="normal" text-anchor="start" fill="#000" >5</text>
<text x="463.3" y="456.7" font-size="14" font-weight="normal" text-anchor="start" fill="#000" >2</text>
<text x="570" y="771.4" font-size="14" font-weight="normal" text-anchor="start" fill="#000" >1</text>
<text x="754.5" y="719.7" font-size="14" font-weight="normal" text-anchor="start" fill="#000" >4</text>
<text x="502" y="444" font-size="14" font-weight="normal" text-anchor="start" fill="#000" >46</text>
<text x="452" y="671.3" font-size="17" font-weight="bold" text-anchor="start" fill="#000" >ЗУ2</text>
<text x="606.7" y="608.7" font-size="17" font-weight="bold" text-anchor="start" fill="#000" >ЗУ3</text>
<text x="343" y="827.3" font-size="11.2" font-weight="normal" text-anchor="start" fill="#000" >52:18:0000000:642</text>
<text x="597.6" y="862" font-size="11.2" font-weight="normal" text-anchor="start" fill="#000" >52:18:0000000:593</text>
<text x="526.3" y="743.3" font-size="11.2" font-weight="normal" text-anchor="start" fill="#000" >52:18:0030175:262</text>
<text x="720" y="758.7" font-size="11.2" font-weight="normal" text-anchor="start" fill="#000" >52:18:0000176:263</text>
<text x="688" y="338" font-size="6" font-weight="normal" text-anchor="start" fill="#333" transform="rotate(-16.4 688 338)" >V.A.77.60</text>
<text x="488" y="599" font-size="11.2" font-weight="normal" text-anchor="start" fill="#000" >52:18:0030175:2</text>
<text x="790.5" y="499.3" font-size="7.6" font-weight="normal" text-anchor="start" fill="#000" transform="rotate(-90 790.5 499.3)" >221900</text>
<text x="796.5" y="499.3" font-size="6.8" font-weight="normal" text-anchor="start" fill="#000" >527900</text>
<text x="295.6" y="664.6" font-size="7.6" font-weight="normal" text-anchor="start" fill="#000" transform="rotate(-90 295.6 664.6)" >221800</text>
<text x="302.5" y="664.6" font-size="6.8" font-weight="normal" text-anchor="start" fill="#000" >527900</text>
<rect x="339.6" y="678.8" width="10.4" height="10.8" fill="#000"/>
<text x="848.5" y="68.8" font-size="19" text-anchor="middle" font-family="Liberation Serif" font-weight="normal" fill="#000" >8</text>
<text transform="translate(848.5 114.8) scale(1.043 1)" x="0" y="0" font-size="19.2" text-anchor="middle" font-family="Liberation Serif" font-weight="bold" fill="#000" >Х. Чертеж межевания территории (2 этап).</text>
<line x1="211.5" y1="141.5" x2="211.5" y2="1103" stroke="#000" stroke-width="1.6" />
<line x1="211" y1="142.2" x2="1554.5" y2="142.2" stroke="#777" stroke-width="1.6" />
<line x1="1554.2" y1="142" x2="1554.2" y2="1103" stroke="#808080" stroke-width="1.6" />
<line x1="211" y1="1102.8" x2="1554.5" y2="1102.8" stroke="#777" stroke-width="1.6" />
<text transform="translate(1218.5 193.6) scale(1.088 1)" x="0" y="0" font-size="10.5" text-anchor="middle" font-family="Liberation Sans" font-weight="normal" fill="#000" >Экспликация образуемых земельных участков</text>
<line x1="930" y1="219.5" x2="1461" y2="219.5" stroke="#555" stroke-width="1.3" />
<line x1="929.5" y1="219" x2="929.5" y2="324" stroke="#555" stroke-width="1.3" />
<line x1="930" y1="256.4" x2="983.5" y2="256.4" stroke="#000" stroke-width="1.3" />
<line x1="1076" y1="256.4" x2="1461" y2="256.4" stroke="#000" stroke-width="1.3" />
<line x1="1076.2" y1="244" x2="1076.2" y2="323" stroke="#000" stroke-width="1.3" />
<line x1="1301.7" y1="253" x2="1301.7" y2="323" stroke="#000" stroke-width="1.3" />
<line x1="930" y1="324.2" x2="1461" y2="324.2" stroke="#666" stroke-width="1.4" />
<text transform="translate(1004.5 229) scale(1.088 1)" x="0" y="0" font-size="10.5" text-anchor="middle" font-family="Liberation Sans" font-weight="normal" fill="#000" >Условный номер</text>
<text transform="translate(1004.5 241.8) scale(1.088 1)" x="0" y="0" font-size="10.5" text-anchor="middle" font-family="Liberation Sans" font-weight="normal" fill="#000" >образуемого земельного</text>
<text transform="translate(1004.5 254.5) scale(1.088 1)" x="0" y="0" font-size="10.5" text-anchor="middle" font-family="Liberation Sans" font-weight="normal" fill="#000" >участка</text>
<text transform="translate(1201 231.8) scale(1.088 1)" x="0" y="0" font-size="10.5" text-anchor="middle" font-family="Liberation Sans" font-weight="normal" fill="#000" >Вид разрешенного использования</text>
<text transform="translate(1201 245) scale(1.088 1)" x="0" y="0" font-size="10.5" text-anchor="middle" font-family="Liberation Sans" font-weight="normal" fill="#000" >образуемого земельного участка</text>
<text transform="translate(1376.5 231.8) scale(1.088 1)" x="0" y="0" font-size="10.5" text-anchor="middle" font-family="Liberation Sans" font-weight="normal" fill="#000" >Площадь образуемого</text>
<text transform="translate(1376.5 245) scale(1.088 1)" x="0" y="0" font-size="10.5" text-anchor="middle" font-family="Liberation Sans" font-weight="normal" fill="#000" >земельного участка (кв.м)</text>
<text transform="translate(1005 294.8) scale(1.088 1)" x="0" y="0" font-size="10.5" text-anchor="middle" font-family="Liberation Sans" font-weight="normal" fill="#000" >ЗУ3</text>
<text transform="translate(1195 294.2) scale(1.088 1)" x="0" y="0" font-size="10.5" text-anchor="middle" font-family="Liberation Sans" font-weight="normal" fill="#000" >хранение автотранспорта</text>
<text transform="translate(1376.5 295) scale(1.088 1)" x="0" y="0" font-size="10.5" text-anchor="middle" font-family="Liberation Sans" font-weight="normal" fill="#000" >3794</text>
<text transform="translate(1240 370.3) scale(0.958 1)" x="0" y="0" font-size="10.4" text-anchor="middle" font-family="Liberation Sans" font-weight="normal" fill="#000" >Экспликация зон планируемого размещения объектов</text>
<line x1="947" y1="378.5" x2="967" y2="378.5" stroke="#000" stroke-width="1.3" />
<line x1="973.6" y1="378.5" x2="1222.6" y2="378.5" stroke="#000" stroke-width="1.3" />
<line x1="1314.6" y1="378.5" x2="1376" y2="378.5" stroke="#000" stroke-width="1.3" />
<line x1="946" y1="399" x2="946" y2="421" stroke="#888" stroke-width="1.3" />
<line x1="971.6" y1="423" x2="971.6" y2="630" stroke="#000" stroke-width="1.3" />
<line x1="1222.6" y1="378" x2="1222.6" y2="630" stroke="#000" stroke-width="1.3" />
<line x1="1314.6" y1="378" x2="1314.6" y2="634" stroke="#000" stroke-width="1.3" />
<line x1="998" y1="417.7" x2="1376" y2="417.7" stroke="#777" stroke-width="1.3" />
<line x1="947" y1="465.2" x2="1376" y2="465.2" stroke="#000" stroke-width="1.4" />
<line x1="947" y1="544.8" x2="1376" y2="544.8" stroke="#000" stroke-width="1.4" />
<line x1="947" y1="565.7" x2="1000" y2="565.7" stroke="#000" stroke-width="1.3" />
<line x1="1224" y1="565.7" x2="1376" y2="565.7" stroke="#000" stroke-width="1.4" />
<line x1="947" y1="594.5" x2="1130" y2="594.5" stroke="#000" stroke-width="1.3" stroke-dasharray="10 6"/>
<line x1="1129" y1="594.6" x2="1376" y2="594.6" stroke="#000" stroke-width="1.4" />
<line x1="946" y1="592" x2="946" y2="630" stroke="#777" stroke-width="1.3" />
<text transform="translate(959 393.6) scale(1.088 1)" x="0" y="0" font-size="9.3" text-anchor="middle" font-family="Liberation Sans" font-weight="normal" fill="#000" >№ по</text>
<text transform="translate(959 406) scale(1.088 1)" x="0" y="0" font-size="9.3" text-anchor="middle" font-family="Liberation Sans" font-weight="normal" fill="#000" >ПП</text>
<text transform="translate(1052.5 401.2) scale(0.975 1)" x="0" y="0" font-size="10.5" text-anchor="middle" font-family="Liberation Sans" font-weight="normal" fill="#000" >Наименование объекта</text>
<text transform="translate(1177.5 390.7) scale(1.088 1)" x="0" y="0" font-size="8" text-anchor="middle" font-family="Liberation Sans" font-weight="normal" fill="#000" letter-spacing="-0.3">Общая площадь</text>
<text transform="translate(1177.5 400.9) scale(1.088 1)" x="0" y="0" font-size="8" text-anchor="middle" font-family="Liberation Sans" font-weight="normal" fill="#000" letter-spacing="-0.3">надземной части</text>
<text transform="translate(1177.5 411.09999999999997) scale(1.088 1)" x="0" y="0" font-size="8" text-anchor="middle" font-family="Liberation Sans" font-weight="normal" fill="#000" letter-spacing="-0.3">здания по (СП 42), м2</text>
<text transform="translate(1269.4 385.3) scale(1.088 1)" x="0" y="0" font-size="8" text-anchor="middle" font-family="Liberation Sans" font-weight="normal" fill="#000" letter-spacing="-0.3">Площадь застройки</text>
<text transform="translate(1269.4 395.3) scale(1.088 1)" x="0" y="0" font-size="8" text-anchor="middle" font-family="Liberation Sans" font-weight="normal" fill="#000" letter-spacing="-0.3">без учета подземной</text>
<text transform="translate(1269.4 405.3) scale(1.088 1)" x="0" y="0" font-size="8" text-anchor="middle" font-family="Liberation Sans" font-weight="normal" fill="#000" letter-spacing="-0.3">части крылец и</text>
<text transform="translate(1269.4 415.3) scale(1.088 1)" x="0" y="0" font-size="8" text-anchor="middle" font-family="Liberation Sans" font-weight="normal" fill="#000" letter-spacing="-0.3">пандусов, м2</text>
<text transform="translate(1344.4 400.6) scale(1.088 1)" x="0" y="0" font-size="8" text-anchor="middle" font-family="Liberation Sans" font-weight="normal" fill="#000" letter-spacing="-0.3">Этажность</text>
<text transform="translate(959 433) scale(1.088 1)" x="0" y="0" font-size="9.3" text-anchor="middle" font-family="Liberation Sans" font-weight="bold" fill="#000" >1</text>
<text transform="translate(1051 431.3) scale(1.088 1)" x="0" y="0" font-size="9.3" text-anchor="middle" font-family="Liberation Sans" font-weight="normal" fill="#000" >Многоквартирный дом со</text>
<text transform="translate(1051 443.40000000000003) scale(1.088 1)" x="0" y="0" font-size="9.3" text-anchor="middle" font-family="Liberation Sans" font-weight="normal" fill="#000" >встроенными помещениями</text>
<text transform="translate(1051 455.5) scale(1.088 1)" x="0" y="0" font-size="9.3" text-anchor="middle" font-family="Liberation Sans" font-weight="normal" fill="#000" >общественного назначения</text>
<text transform="translate(1177.5 431.3) scale(1.088 1)" x="0" y="0" font-size="9.3" text-anchor="middle" font-family="Liberation Sans" font-weight="normal" fill="#000" >11555,62</text>
<text transform="translate(1270 431.3) scale(1.088 1)" x="0" y="0" font-size="9.3" text-anchor="middle" font-family="Liberation Sans" font-weight="normal" fill="#000" >674,52</text>
<text transform="translate(1344.5 431.3) scale(1.088 1)" x="0" y="0" font-size="9.3" text-anchor="middle" font-family="Liberation Sans" font-weight="bold" fill="#000" >17</text>
<text transform="translate(959 479.5) scale(1.088 1)" x="0" y="0" font-size="9.3" text-anchor="middle" font-family="Liberation Sans" font-weight="normal" fill="#000" >2</text>
<text transform="translate(1051 479.5) scale(1.088 1)" x="0" y="0" font-size="9.3" text-anchor="middle" font-family="Liberation Sans" font-weight="normal" fill="#000" >Многоквартирный дом со</text>
<text transform="translate(1051 491.6) scale(1.088 1)" x="0" y="0" font-size="9.3" text-anchor="middle" font-family="Liberation Sans" font-weight="normal" fill="#000" >встроенными помещениями</text>
<text transform="translate(1051 503.7) scale(1.088 1)" x="0" y="0" font-size="9.3" text-anchor="middle" font-family="Liberation Sans" font-weight="normal" fill="#000" >общественного назначения и</text>
<text transform="translate(1051 515.8) scale(1.088 1)" x="0" y="0" font-size="9.3" text-anchor="middle" font-family="Liberation Sans" font-weight="normal" fill="#000" >детской дошкольной</text>
<text transform="translate(1051 527.9) scale(1.088 1)" x="0" y="0" font-size="9.3" text-anchor="middle" font-family="Liberation Sans" font-weight="normal" fill="#000" >организацией</text>
<text transform="translate(1177.5 478.4) scale(1.088 1)" x="0" y="0" font-size="9.3" text-anchor="middle" font-family="Liberation Sans" font-weight="normal" fill="#000" >11555,62</text>
<text transform="translate(1270 478.4) scale(1.088 1)" x="0" y="0" font-size="9.3" text-anchor="middle" font-family="Liberation Sans" font-weight="normal" fill="#000" >674,52</text>
<text transform="translate(1344.5 478.4) scale(1.088 1)" x="0" y="0" font-size="9.3" text-anchor="middle" font-family="Liberation Sans" font-weight="bold" fill="#000" >17</text>
<text transform="translate(959 559.7) scale(1.088 1)" x="0" y="0" font-size="9.3" text-anchor="middle" font-family="Liberation Sans" font-weight="normal" fill="#000" >3</text>
<text transform="translate(1059 559.7) scale(1.088 1)" x="0" y="0" font-size="9.3" text-anchor="middle" font-family="Liberation Sans" font-weight="normal" fill="#000" >Обвалованная парковка</text>
<text transform="translate(1178 556) scale(1.088 1)" x="0" y="0" font-size="9.3" text-anchor="middle" font-family="Liberation Sans" font-weight="normal" fill="#000" >-</text>
<text transform="translate(1270 558) scale(1.088 1)" x="0" y="0" font-size="9.3" text-anchor="middle" font-family="Liberation Sans" font-weight="normal" fill="#000" >2149</text>
<text transform="translate(1344 559.6) scale(1.088 1)" x="0" y="0" font-size="9.3" text-anchor="middle" font-family="Liberation Sans" font-weight="normal" fill="#000" >1</text>
<text transform="translate(959 583.7) scale(1.088 1)" x="0" y="0" font-size="9.3" text-anchor="middle" font-family="Liberation Sans" font-weight="normal" fill="#000" >4</text>
<text transform="translate(1051 575.5) scale(1.088 1)" x="0" y="0" font-size="9.3" text-anchor="middle" font-family="Liberation Sans" font-weight="normal" fill="#000" >Объект электроснабжения</text>
<text transform="translate(1051 588.2) scale(1.088 1)" x="0" y="0" font-size="9.3" text-anchor="middle" font-family="Liberation Sans" font-weight="normal" fill="#000" >(трансформаторная подстанция)</text>
<text transform="translate(1177 581) scale(1.088 1)" x="0" y="0" font-size="9.3" text-anchor="middle" font-family="Liberation Sans" font-weight="normal" fill="#000" >20</text>
<text transform="translate(1268 581) scale(1.088 1)" x="0" y="0" font-size="9.3" text-anchor="middle" font-family="Liberation Sans" font-weight="normal" fill="#000" >20</text>
<text transform="translate(1344 581) scale(1.088 1)" x="0" y="0" font-size="9.3" text-anchor="middle" font-family="Liberation Sans" font-weight="normal" fill="#000" >1</text>
<text transform="translate(959 611.5) scale(1.088 1)" x="0" y="0" font-size="9.3" text-anchor="middle" font-family="Liberation Sans" font-weight="normal" fill="#000" >5</text>
<text transform="translate(1051 604) scale(1.088 1)" x="0" y="0" font-size="9.3" text-anchor="middle" font-family="Liberation Sans" font-weight="normal" fill="#000" >Объект коммунального</text>
<text transform="translate(1051 616) scale(1.088 1)" x="0" y="0" font-size="9.3" text-anchor="middle" font-family="Liberation Sans" font-weight="normal" fill="#000" >обслуживания</text>
<text transform="translate(1051 628) scale(1.088 1)" x="0" y="0" font-size="9.3" text-anchor="middle" font-family="Liberation Sans" font-weight="normal" fill="#000" >(канализац.насосная станция)</text>
<text transform="translate(1174 617) scale(1.088 1)" x="0" y="0" font-size="9.3" text-anchor="middle" font-family="Liberation Sans" font-weight="normal" fill="#000" >-</text>
<text transform="translate(1264 617) scale(1.088 1)" x="0" y="0" font-size="9.3" text-anchor="middle" font-family="Liberation Sans" font-weight="normal" fill="#000" >-</text>
<text transform="translate(1344 617) scale(1.088 1)" x="0" y="0" font-size="9.3" text-anchor="middle" font-family="Liberation Sans" font-weight="normal" fill="#000" >-</text>
<text transform="translate(972 690) scale(1.088 1)" x="0" y="0" font-size="14.6" text-anchor="start" font-family="Liberation Sans" font-weight="normal" fill="#000" >Условные обозначения</text>
<line x1="985" y1="728" x2="1080" y2="728" stroke="#000" stroke-width="1.9" stroke-dasharray="4 3 2 3 2 3 10 3 2 3"/>
<line x1="985" y1="750.8" x2="1080" y2="750.8" stroke="#000" stroke-width="2.6" />
<rect x="986.5" y="763.8" width="93.3" height="27.8" fill="none" stroke="#000" stroke-width="1.2"/>
<text transform="translate(1032.4 780.4) scale(0.995 1)" x="0" y="0" font-size="10.8" text-anchor="middle" font-family="Liberation Sans" font-weight="normal" fill="#000" >52:18:0030175:1</text>
<circle cx="1051" cy="833.6" r="1.6" fill="#000"/>
<text x="1079.6" y="829.7" font-size="13.8" text-anchor="end" font-family="Liberation Sans" font-weight="normal" fill="#000" >19.1</text>
<rect x="987" y="861.8" width="93" height="27.2" fill="none" stroke="#000" stroke-width="1.5"/>
<text transform="translate(1032 882.9) scale(1.01 1)" x="0" y="0" font-size="22.5" text-anchor="middle" font-family="Liberation Sans" font-weight="normal" fill="#000" >ЗУ2</text>
<rect x="987.5" y="905.5" width="92" height="27.5" fill="none" stroke="#000" stroke-width="2.2"/>
<text transform="translate(1107 729) scale(1.088 1)" x="0" y="0" font-size="14.6" text-anchor="start" font-family="Liberation Sans" font-weight="normal" fill="#000" >Граница разработки документации, границы РЗТ</text>
<text transform="translate(1105 756) scale(1.088 1)" x="0" y="0" font-size="14.6" text-anchor="start" font-family="Liberation Sans" font-weight="normal" fill="#000" >Существующие красные линии</text>
<text transform="translate(1107 786.2) scale(1.088 1)" x="0" y="0" font-size="14.6" text-anchor="start" font-family="Liberation Sans" font-weight="normal" fill="#000" >Границы земельных участков, зарегистрированных в</text>
<text transform="translate(1107 803.2) scale(1.088 1)" x="0" y="0" font-size="14.6" text-anchor="start" font-family="Liberation Sans" font-weight="normal" fill="#000" >ЕГРН, и их кадастровые номера</text>
<text transform="translate(1107 835) scale(1.088 1)" x="0" y="0" font-size="14.6" text-anchor="start" font-family="Liberation Sans" font-weight="normal" fill="#000" >Поворотные точки границы образуемого земельного</text>
<text transform="translate(1107 852.7) scale(1.088 1)" x="0" y="0" font-size="14.6" text-anchor="start" font-family="Liberation Sans" font-weight="normal" fill="#000" >участка</text>
<text transform="translate(1107 875.7) scale(1.088 1)" x="0" y="0" font-size="14.6" text-anchor="start" font-family="Liberation Sans" font-weight="normal" fill="#000" >Границы образуемого земельного участка и его</text>
<text transform="translate(1107 893.4) scale(1.088 1)" x="0" y="0" font-size="14.6" text-anchor="start" font-family="Liberation Sans" font-weight="normal" fill="#000" >условный номер</text>
<text transform="translate(1107 917.4) scale(1.088 1)" x="0" y="0" font-size="14.6" text-anchor="start" font-family="Liberation Sans" font-weight="normal" fill="#000" >Границы зоны планируемого размещения объекта</text>
<text transform="translate(1107 935.1) scale(1.088 1)" x="0" y="0" font-size="14.6" text-anchor="start" font-family="Liberation Sans" font-weight="normal" fill="#000" >капитального строительства</text>
<line x1="1249.6" y1="1012" x2="1554" y2="1012" stroke="#555" stroke-width="1.6" />
<line x1="1249.6" y1="1012" x2="1249.6" y2="1103" stroke="#000" stroke-width="1.3" />
<line x1="1282.3" y1="1012" x2="1282.3" y2="1103" stroke="#000" stroke-width="1.3" />
<line x1="1315.5" y1="1012" x2="1315.5" y2="1103" stroke="#000" stroke-width="1.3" />
<line x1="1340.6" y1="1012" x2="1340.6" y2="1103" stroke="#000" stroke-width="1.3" />
<line x1="1266.6" y1="1012" x2="1266.6" y2="1053.4" stroke="#000" stroke-width="1.3" />
<line x1="1298.7" y1="1012" x2="1298.7" y2="1053.4" stroke="#000" stroke-width="1.3" />
<line x1="1356.5" y1="1012" x2="1356.5" y2="1103" stroke="#000" stroke-width="1.6" />
<line x1="1249.6" y1="1028.3" x2="1554" y2="1028.3" stroke="#333" stroke-width="1.3" />
<line x1="1249.6" y1="1046.2" x2="1356.5" y2="1046.2" stroke="#333" stroke-width="1.3" />
<line x1="1249.6" y1="1053.4" x2="1554" y2="1053.4" stroke="#333" stroke-width="1.3" />
<line x1="1471.6" y1="1053.4" x2="1471.6" y2="1103" stroke="#000" stroke-width="1.6" />
<line x1="1496" y1="1053.4" x2="1496" y2="1078.5" stroke="#000" stroke-width="1.3" />
<line x1="1521" y1="1053.4" x2="1521" y2="1078.5" stroke="#000" stroke-width="1.3" />
<line x1="1471.6" y1="1061" x2="1554" y2="1061" stroke="#333" stroke-width="1.2" />
<line x1="1356.5" y1="1078.5" x2="1554" y2="1078.5" stroke="#000" stroke-width="1.3" />
<line x1="1251" y1="1078.2" x2="1312" y2="1078.2" stroke="#999" stroke-width="0.9" />
<line x1="1340.6" y1="1020.5" x2="1356.5" y2="1020.5" stroke="#000" stroke-width="1.2" />
<line x1="1340.6" y1="1094.6" x2="1356.5" y2="1094.6" stroke="#000" stroke-width="1.2" />
<line x1="1252" y1="1094.8" x2="1272" y2="1094.8" stroke="#666" stroke-width="0.8" />
<line x1="1284" y1="1094.8" x2="1312" y2="1094.8" stroke="#666" stroke-width="0.8" />
<line x1="1285" y1="1075.5" x2="1310" y2="1075.5" stroke="#444" stroke-width="0.8" />
<text x="1455.7" y="1022.3" font-size="6.2" text-anchor="middle" font-family="Liberation Sans" font-weight="bold" fill="#000" textLength="31" lengthAdjust="spacingAndGlyphs">6924-ППМ</text>
<text x="1456" y="1034.4" font-size="4.8" text-anchor="middle" font-family="Liberation Sans" font-weight="bold" fill="#000" textLength="184" lengthAdjust="spacingAndGlyphs">Документация по планировке территории (проект межевания территории)</text>
<text x="1456" y="1040.3000000000002" font-size="4.8" text-anchor="middle" font-family="Liberation Sans" font-weight="bold" fill="#000" textLength="186" lengthAdjust="spacingAndGlyphs">в границах территории, ограниченной улицами, переулками, проездами</text>
<text x="1456" y="1046.2" font-size="4.8" text-anchor="middle" font-family="Liberation Sans" font-weight="bold" fill="#000" textLength="195" lengthAdjust="spacingAndGlyphs">в городе Нижний Новгород. Проект межевания территории. Основная часть</text>
<text x="1456" y="1052.1000000000001" font-size="4.8" text-anchor="middle" font-family="Liberation Sans" font-weight="bold" fill="#000" textLength="22" lengthAdjust="spacingAndGlyphs">чертежи</text>
<text x="1258" y="1050.6" font-size="4.3" text-anchor="middle" font-family="Liberation Sans" font-weight="bold" fill="#000" >Изм</text>
<text x="1274.5" y="1050.6" font-size="4.3" text-anchor="middle" font-family="Liberation Sans" font-weight="bold" fill="#000" >Кол.уч</text>
<text x="1290.5" y="1050.6" font-size="4.3" text-anchor="middle" font-family="Liberation Sans" font-weight="bold" fill="#000" >Лист</text>
<text x="1307" y="1050.6" font-size="4.3" text-anchor="middle" font-family="Liberation Sans" font-weight="bold" fill="#000" >№док</text>
<text x="1328" y="1050.6" font-size="4.3" text-anchor="middle" font-family="Liberation Sans" font-weight="bold" fill="#000" >Подп</text>
<text x="1348.5" y="1050.6" font-size="4.3" text-anchor="middle" font-family="Liberation Sans" font-weight="bold" fill="#000" >Дата</text>
<text x="1265.5" y="1058.6" font-size="4.6" text-anchor="middle" font-family="Liberation Sans" font-weight="bold" fill="#000" textLength="30" lengthAdjust="spacingAndGlyphs">Разработал</text>
<text x="1297" y="1058.6" font-size="4.6" text-anchor="middle" font-family="Liberation Sans" font-weight="bold" fill="#000" textLength="27" lengthAdjust="spacingAndGlyphs">Ляпина Е.Г.</text>
<text x="1266.5" y="1066.5" font-size="4.6" text-anchor="middle" font-family="Liberation Sans" font-weight="bold" fill="#000" textLength="24" lengthAdjust="spacingAndGlyphs">Проверил</text>
<text x="1297" y="1066.5" font-size="4.6" text-anchor="middle" font-family="Liberation Sans" font-weight="bold" fill="#000" textLength="27" lengthAdjust="spacingAndGlyphs">Ляпина Е.Г.</text>
<text x="1265" y="1100.3" font-size="4.4" text-anchor="middle" font-family="Liberation Sans" font-weight="bold" fill="#000" textLength="27" lengthAdjust="spacingAndGlyphs">Н.контр</text>
<text x="1297" y="1100.3" font-size="4.4" text-anchor="middle" font-family="Liberation Sans" font-weight="bold" fill="#000" textLength="27" lengthAdjust="spacingAndGlyphs">Ляпина Е.Г.</text>
<text x="1484" y="1059.3" font-size="4.6" text-anchor="middle" font-family="Liberation Sans" font-weight="bold" fill="#000" >Стадия</text>
<text x="1508.5" y="1059.3" font-size="4.6" text-anchor="middle" font-family="Liberation Sans" font-weight="bold" fill="#000" >Лист</text>
<text x="1537.5" y="1059.3" font-size="4.6" text-anchor="middle" font-family="Liberation Sans" font-weight="bold" fill="#000" >Листов</text>
<text x="1484" y="1071.2" font-size="4.6" text-anchor="middle" font-family="Liberation Sans" font-weight="bold" fill="#000" >П/Пм</text>
<text x="1510" y="1093" font-size="5.4" text-anchor="middle" font-family="Liberation Sans" font-weight="bold" fill="#000" >ИП Ляпина Е.Г.</text>
<text x="1585.5" y="1090.6" font-size="19" text-anchor="middle" font-family="Liberation Serif" font-weight="bold" fill="#000" >».</text>
</svg>
</body></html>
